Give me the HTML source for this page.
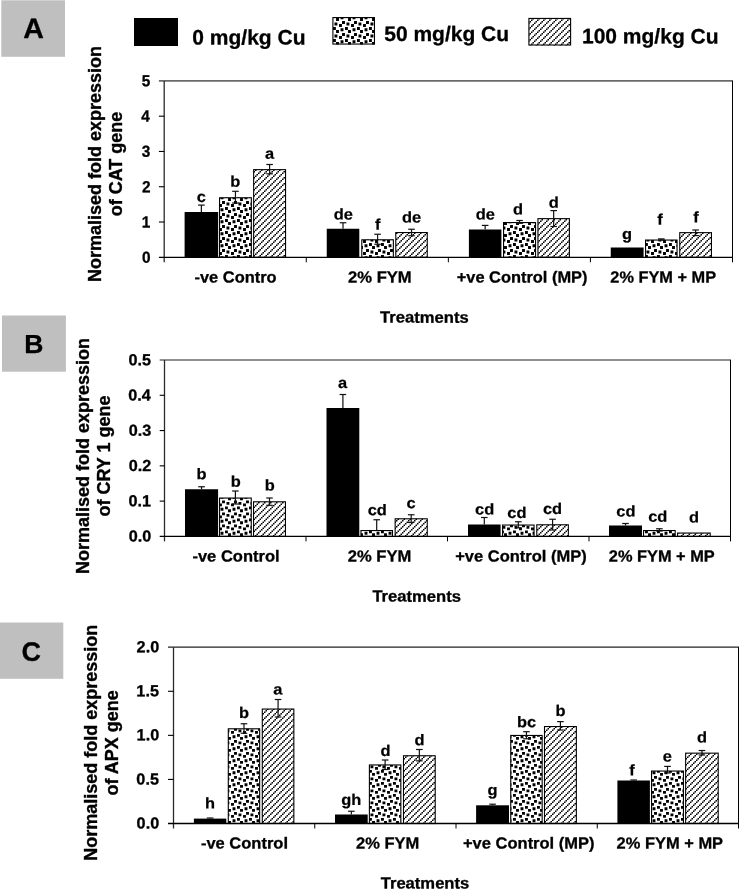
<!DOCTYPE html>
<html lang="en">
<head>
<meta charset="utf-8">
<title>Normalised fold expression of CAT, CRY 1 and APX genes</title>
<style>
html,body{margin:0;padding:0;background:#fff;}
body{width:739px;height:889px;overflow:hidden;}
svg{display:block;}
text{font-family:"Liberation Sans",Arial,Helvetica,sans-serif;font-weight:bold;stroke-linejoin:round;}
</style>
</head>
<body>
<svg width="739" height="889" viewBox="0 0 739 889" font-family='"Liberation Sans", Arial, Helvetica, sans-serif' font-weight="bold" fill="#000">
<rect width="739" height="889" fill="#fff"/>
<rect x="1.3" y="0.3" width="63.7" height="56.5" fill="#bfbfbf"/>
<text transform="translate(23.14,38.1) skewY(0.05) scale(1.02,1)" font-size="28" stroke="#000" stroke-width="0.3">A</text>
<rect x="2" y="315.5" width="63.9" height="56.2" fill="#bfbfbf"/>
<text transform="translate(24.27,353.05) skewY(0.05) scale(1.02,1)" font-size="26" stroke="#000" stroke-width="0.3">B</text>
<rect x="0" y="622.5" width="63.3" height="56.3" fill="#bfbfbf"/>
<text transform="translate(21.59,660.75) skewY(0.05) scale(1.02,1)" font-size="26.5" stroke="#000" stroke-width="0.3">C</text>
<rect x="134" y="18" width="44" height="28" fill="#000"/>
<text transform="translate(192.3,44.5) skewY(0.05)" font-size="21" stroke="#000" stroke-width="0.3">0 mg/kg Cu</text>
<rect x="332.36" y="17.04" width="42.64" height="27.56" fill="#fff"/><path d="M342.04 21.05h2.9v2.9h-2.9zM342.04 33.05h2.9v2.9h-2.9zM354.04 21.05h2.9v2.9h-2.9zM354.04 33.05h2.9v2.9h-2.9zM366.04 21.05h2.9v2.9h-2.9zM366.04 33.05h2.9v2.9h-2.9zM334.48 22.53h2.9v2.9h-2.9zM334.48 34.53h2.9v2.9h-2.9zM346.48 22.53h2.9v2.9h-2.9zM346.48 34.53h2.9v2.9h-2.9zM358.48 22.53h2.9v2.9h-2.9zM358.48 34.53h2.9v2.9h-2.9zM370.48 22.53h2.9v2.9h-2.9zM370.48 34.53h2.9v2.9h-2.9zM339.04 24.02h2.9v2.9h-2.9zM339.04 36.02h2.9v2.9h-2.9zM351.04 24.02h2.9v2.9h-2.9zM351.04 36.02h2.9v2.9h-2.9zM363.04 24.02h2.9v2.9h-2.9zM363.04 36.02h2.9v2.9h-2.9zM332.99 17.59h2.9v0.36h-2.9zM332.99 27.05h2.9v2.9h-2.9zM332.99 39.05h2.9v2.9h-2.9zM344.99 17.59h2.9v0.36h-2.9zM344.99 27.05h2.9v2.9h-2.9zM344.99 39.05h2.9v2.9h-2.9zM356.99 17.59h2.9v0.36h-2.9zM356.99 27.05h2.9v2.9h-2.9zM356.99 39.05h2.9v2.9h-2.9zM368.99 17.59h2.9v0.36h-2.9zM368.99 27.05h2.9v2.9h-2.9zM368.99 39.05h2.9v2.9h-2.9zM340.55 17.59h2.9v1.66h-2.9zM340.55 28.35h2.9v2.9h-2.9zM340.55 40.35h2.9v2.9h-2.9zM352.55 17.59h2.9v1.66h-2.9zM352.55 28.35h2.9v2.9h-2.9zM352.55 40.35h2.9v2.9h-2.9zM364.55 17.59h2.9v1.66h-2.9zM364.55 28.35h2.9v2.9h-2.9zM364.55 40.35h2.9v2.9h-2.9zM336.05 17.98h2.9v2.9h-2.9zM336.05 29.98h2.9v2.9h-2.9zM336.05 41.98h2.9v2.62h-2.9zM348.05 17.98h2.9v2.9h-2.9zM348.05 29.98h2.9v2.9h-2.9zM348.05 41.98h2.9v2.62h-2.9zM360.05 17.98h2.9v2.9h-2.9zM360.05 29.98h2.9v2.9h-2.9zM360.05 41.98h2.9v2.62h-2.9zM372.05 17.98h2.4v2.9h-2.4zM372.05 29.98h2.4v2.9h-2.4zM372.05 41.98h2.4v2.62h-2.4z" fill="#000"/><rect x="332.91" y="17.59" width="41.54" height="26.46" fill="none" stroke="#000" stroke-width="1.1"/>
<text transform="translate(384.2,41) skewY(0.05)" font-size="21" stroke="#000" stroke-width="0.3">50 mg/kg Cu</text>
<rect x="528.36" y="17.88" width="42.79" height="27.66" fill="#fff"/><path d="M532.5 18.43h1.5v1.07h-1.5zM538.5 18.43h1.5v1.07h-1.5zM544.5 18.43h1.5v1.07h-1.5zM550.5 18.43h1.5v1.07h-1.5zM556.5 18.43h1.5v1.07h-1.5zM562.5 18.43h1.5v1.07h-1.5zM568.5 18.43h1.5v1.07h-1.5zM531 19.5h1.5v1.5h-1.5zM537 19.5h1.5v1.5h-1.5zM543 19.5h1.5v1.5h-1.5zM549 19.5h1.5v1.5h-1.5zM555 19.5h1.5v1.5h-1.5zM561 19.5h1.5v1.5h-1.5zM567 19.5h1.5v1.5h-1.5zM529.5 21h1.5v1.5h-1.5zM535.5 21h1.5v1.5h-1.5zM541.5 21h1.5v1.5h-1.5zM547.5 21h1.5v1.5h-1.5zM553.5 21h1.5v1.5h-1.5zM559.5 21h1.5v1.5h-1.5zM565.5 21h1.5v1.5h-1.5zM528.91 22.5h0.59v1.5h-0.59zM534 22.5h1.5v1.5h-1.5zM540 22.5h1.5v1.5h-1.5zM546 22.5h1.5v1.5h-1.5zM552 22.5h1.5v1.5h-1.5zM558 22.5h1.5v1.5h-1.5zM564 22.5h1.5v1.5h-1.5zM570 22.5h0.6v1.5h-0.6zM532.5 24h1.5v1.5h-1.5zM538.5 24h1.5v1.5h-1.5zM544.5 24h1.5v1.5h-1.5zM550.5 24h1.5v1.5h-1.5zM556.5 24h1.5v1.5h-1.5zM562.5 24h1.5v1.5h-1.5zM568.5 24h1.5v1.5h-1.5zM531 25.5h1.5v1.5h-1.5zM537 25.5h1.5v1.5h-1.5zM543 25.5h1.5v1.5h-1.5zM549 25.5h1.5v1.5h-1.5zM555 25.5h1.5v1.5h-1.5zM561 25.5h1.5v1.5h-1.5zM567 25.5h1.5v1.5h-1.5zM529.5 27h1.5v1.5h-1.5zM535.5 27h1.5v1.5h-1.5zM541.5 27h1.5v1.5h-1.5zM547.5 27h1.5v1.5h-1.5zM553.5 27h1.5v1.5h-1.5zM559.5 27h1.5v1.5h-1.5zM565.5 27h1.5v1.5h-1.5zM528.91 28.5h0.59v1.5h-0.59zM534 28.5h1.5v1.5h-1.5zM540 28.5h1.5v1.5h-1.5zM546 28.5h1.5v1.5h-1.5zM552 28.5h1.5v1.5h-1.5zM558 28.5h1.5v1.5h-1.5zM564 28.5h1.5v1.5h-1.5zM570 28.5h0.6v1.5h-0.6zM532.5 30h1.5v1.5h-1.5zM538.5 30h1.5v1.5h-1.5zM544.5 30h1.5v1.5h-1.5zM550.5 30h1.5v1.5h-1.5zM556.5 30h1.5v1.5h-1.5zM562.5 30h1.5v1.5h-1.5zM568.5 30h1.5v1.5h-1.5zM531 31.5h1.5v1.5h-1.5zM537 31.5h1.5v1.5h-1.5zM543 31.5h1.5v1.5h-1.5zM549 31.5h1.5v1.5h-1.5zM555 31.5h1.5v1.5h-1.5zM561 31.5h1.5v1.5h-1.5zM567 31.5h1.5v1.5h-1.5zM529.5 33h1.5v1.5h-1.5zM535.5 33h1.5v1.5h-1.5zM541.5 33h1.5v1.5h-1.5zM547.5 33h1.5v1.5h-1.5zM553.5 33h1.5v1.5h-1.5zM559.5 33h1.5v1.5h-1.5zM565.5 33h1.5v1.5h-1.5zM528.91 34.5h0.59v1.5h-0.59zM534 34.5h1.5v1.5h-1.5zM540 34.5h1.5v1.5h-1.5zM546 34.5h1.5v1.5h-1.5zM552 34.5h1.5v1.5h-1.5zM558 34.5h1.5v1.5h-1.5zM564 34.5h1.5v1.5h-1.5zM570 34.5h0.6v1.5h-0.6zM532.5 36h1.5v1.5h-1.5zM538.5 36h1.5v1.5h-1.5zM544.5 36h1.5v1.5h-1.5zM550.5 36h1.5v1.5h-1.5zM556.5 36h1.5v1.5h-1.5zM562.5 36h1.5v1.5h-1.5zM568.5 36h1.5v1.5h-1.5zM531 37.5h1.5v1.5h-1.5zM537 37.5h1.5v1.5h-1.5zM543 37.5h1.5v1.5h-1.5zM549 37.5h1.5v1.5h-1.5zM555 37.5h1.5v1.5h-1.5zM561 37.5h1.5v1.5h-1.5zM567 37.5h1.5v1.5h-1.5zM529.5 39h1.5v1.5h-1.5zM535.5 39h1.5v1.5h-1.5zM541.5 39h1.5v1.5h-1.5zM547.5 39h1.5v1.5h-1.5zM553.5 39h1.5v1.5h-1.5zM559.5 39h1.5v1.5h-1.5zM565.5 39h1.5v1.5h-1.5zM528.91 40.5h0.59v1.5h-0.59zM534 40.5h1.5v1.5h-1.5zM540 40.5h1.5v1.5h-1.5zM546 40.5h1.5v1.5h-1.5zM552 40.5h1.5v1.5h-1.5zM558 40.5h1.5v1.5h-1.5zM564 40.5h1.5v1.5h-1.5zM570 40.5h0.6v1.5h-0.6zM532.5 42h1.5v1.5h-1.5zM538.5 42h1.5v1.5h-1.5zM544.5 42h1.5v1.5h-1.5zM550.5 42h1.5v1.5h-1.5zM556.5 42h1.5v1.5h-1.5zM562.5 42h1.5v1.5h-1.5zM568.5 42h1.5v1.5h-1.5zM531 43.5h1.5v1.5h-1.5zM537 43.5h1.5v1.5h-1.5zM543 43.5h1.5v1.5h-1.5zM549 43.5h1.5v1.5h-1.5zM555 43.5h1.5v1.5h-1.5zM561 43.5h1.5v1.5h-1.5zM567 43.5h1.5v1.5h-1.5zM529.5 45h1.5v0.54h-1.5zM535.5 45h1.5v0.54h-1.5zM541.5 45h1.5v0.54h-1.5zM547.5 45h1.5v0.54h-1.5zM553.5 45h1.5v0.54h-1.5zM559.5 45h1.5v0.54h-1.5zM565.5 45h1.5v0.54h-1.5z" fill="#000"/><rect x="528.91" y="18.43" width="41.69" height="26.56" fill="none" stroke="#000" stroke-width="1.1"/>
<text transform="translate(582,43.3) skewY(0.05)" font-size="21" stroke="#000" stroke-width="0.3">100 mg/kg Cu</text>
<line x1="158.9" y1="80.9" x2="733" y2="80.9" stroke="#6a6a6a" stroke-width="1.7"/>
<line x1="732.5" y1="80.9" x2="732.5" y2="262.3" stroke="#000" stroke-width="1"/>
<rect x="184.6" y="212" width="33.55" height="45.3" fill="#000"/>
<rect x="219" y="197.2" width="32.9" height="60.1" fill="#fff"/><path d="M222.04 201.05h2.9v2.9h-2.9zM222.04 213.05h2.9v2.9h-2.9zM222.04 225.05h2.9v2.9h-2.9zM222.04 237.05h2.9v2.9h-2.9zM222.04 249.05h2.9v2.9h-2.9zM234.04 201.05h2.9v2.9h-2.9zM234.04 213.05h2.9v2.9h-2.9zM234.04 225.05h2.9v2.9h-2.9zM234.04 237.05h2.9v2.9h-2.9zM234.04 249.05h2.9v2.9h-2.9zM246.04 201.05h2.9v2.9h-2.9zM246.04 213.05h2.9v2.9h-2.9zM246.04 225.05h2.9v2.9h-2.9zM246.04 237.05h2.9v2.9h-2.9zM246.04 249.05h2.9v2.9h-2.9zM226.48 202.53h2.9v2.9h-2.9zM226.48 214.53h2.9v2.9h-2.9zM226.48 226.53h2.9v2.9h-2.9zM226.48 238.53h2.9v2.9h-2.9zM226.48 250.53h2.9v2.9h-2.9zM238.48 202.53h2.9v2.9h-2.9zM238.48 214.53h2.9v2.9h-2.9zM238.48 226.53h2.9v2.9h-2.9zM238.48 238.53h2.9v2.9h-2.9zM238.48 250.53h2.9v2.9h-2.9zM250.48 202.53h0.87v2.9h-0.87zM250.48 214.53h0.87v2.9h-0.87zM250.48 226.53h0.87v2.9h-0.87zM250.48 238.53h0.87v2.9h-0.87zM250.48 250.53h0.87v2.9h-0.87zM219.55 204.02h2.39v2.9h-2.39zM219.55 216.02h2.39v2.9h-2.39zM219.55 228.02h2.39v2.9h-2.39zM219.55 240.02h2.39v2.9h-2.39zM219.55 252.02h2.39v2.9h-2.39zM231.04 204.02h2.9v2.9h-2.9zM231.04 216.02h2.9v2.9h-2.9zM231.04 228.02h2.9v2.9h-2.9zM231.04 240.02h2.9v2.9h-2.9zM231.04 252.02h2.9v2.9h-2.9zM243.04 204.02h2.9v2.9h-2.9zM243.04 216.02h2.9v2.9h-2.9zM243.04 228.02h2.9v2.9h-2.9zM243.04 240.02h2.9v2.9h-2.9zM243.04 252.02h2.9v2.9h-2.9zM224.99 197.75h2.9v0.2h-2.9zM224.99 207.05h2.9v2.9h-2.9zM224.99 219.05h2.9v2.9h-2.9zM224.99 231.05h2.9v2.9h-2.9zM224.99 243.05h2.9v2.9h-2.9zM224.99 255.05h2.9v2.25h-2.9zM236.99 197.75h2.9v0.2h-2.9zM236.99 207.05h2.9v2.9h-2.9zM236.99 219.05h2.9v2.9h-2.9zM236.99 231.05h2.9v2.9h-2.9zM236.99 243.05h2.9v2.9h-2.9zM236.99 255.05h2.9v2.25h-2.9zM248.99 197.75h2.36v0.2h-2.36zM248.99 207.05h2.36v2.9h-2.36zM248.99 219.05h2.36v2.9h-2.36zM248.99 231.05h2.36v2.9h-2.36zM248.99 243.05h2.36v2.9h-2.36zM248.99 255.05h2.36v2.25h-2.36zM220.55 197.75h2.9v1.5h-2.9zM220.55 208.35h2.9v2.9h-2.9zM220.55 220.35h2.9v2.9h-2.9zM220.55 232.35h2.9v2.9h-2.9zM220.55 244.35h2.9v2.9h-2.9zM220.55 256.35h2.9v0.95h-2.9zM232.55 197.75h2.9v1.5h-2.9zM232.55 208.35h2.9v2.9h-2.9zM232.55 220.35h2.9v2.9h-2.9zM232.55 232.35h2.9v2.9h-2.9zM232.55 244.35h2.9v2.9h-2.9zM232.55 256.35h2.9v0.95h-2.9zM244.55 197.75h2.9v1.5h-2.9zM244.55 208.35h2.9v2.9h-2.9zM244.55 220.35h2.9v2.9h-2.9zM244.55 232.35h2.9v2.9h-2.9zM244.55 244.35h2.9v2.9h-2.9zM244.55 256.35h2.9v0.95h-2.9zM228.05 197.98h2.9v2.9h-2.9zM228.05 209.98h2.9v2.9h-2.9zM228.05 221.98h2.9v2.9h-2.9zM228.05 233.98h2.9v2.9h-2.9zM228.05 245.98h2.9v2.9h-2.9zM240.05 197.98h2.9v2.9h-2.9zM240.05 209.98h2.9v2.9h-2.9zM240.05 221.98h2.9v2.9h-2.9zM240.05 233.98h2.9v2.9h-2.9zM240.05 245.98h2.9v2.9h-2.9z" fill="#000"/><rect x="219.55" y="197.75" width="31.8" height="59.55" fill="none" stroke="#000" stroke-width="1.1"/>
<rect x="253.1" y="169.1" width="33" height="88.2" fill="#fff"/><path d="M255 169.65h1.5v1.35h-1.5zM261 169.65h1.5v1.35h-1.5zM267 169.65h1.5v1.35h-1.5zM273 169.65h1.5v1.35h-1.5zM279 169.65h1.5v1.35h-1.5zM285 169.65h0.55v1.35h-0.55zM253.65 171h1.35v1.5h-1.35zM259.5 171h1.5v1.5h-1.5zM265.5 171h1.5v1.5h-1.5zM271.5 171h1.5v1.5h-1.5zM277.5 171h1.5v1.5h-1.5zM283.5 171h1.5v1.5h-1.5zM258 172.5h1.5v1.5h-1.5zM264 172.5h1.5v1.5h-1.5zM270 172.5h1.5v1.5h-1.5zM276 172.5h1.5v1.5h-1.5zM282 172.5h1.5v1.5h-1.5zM256.5 174h1.5v1.5h-1.5zM262.5 174h1.5v1.5h-1.5zM268.5 174h1.5v1.5h-1.5zM274.5 174h1.5v1.5h-1.5zM280.5 174h1.5v1.5h-1.5zM255 175.5h1.5v1.5h-1.5zM261 175.5h1.5v1.5h-1.5zM267 175.5h1.5v1.5h-1.5zM273 175.5h1.5v1.5h-1.5zM279 175.5h1.5v1.5h-1.5zM285 175.5h0.55v1.5h-0.55zM253.65 177h1.35v1.5h-1.35zM259.5 177h1.5v1.5h-1.5zM265.5 177h1.5v1.5h-1.5zM271.5 177h1.5v1.5h-1.5zM277.5 177h1.5v1.5h-1.5zM283.5 177h1.5v1.5h-1.5zM258 178.5h1.5v1.5h-1.5zM264 178.5h1.5v1.5h-1.5zM270 178.5h1.5v1.5h-1.5zM276 178.5h1.5v1.5h-1.5zM282 178.5h1.5v1.5h-1.5zM256.5 180h1.5v1.5h-1.5zM262.5 180h1.5v1.5h-1.5zM268.5 180h1.5v1.5h-1.5zM274.5 180h1.5v1.5h-1.5zM280.5 180h1.5v1.5h-1.5zM255 181.5h1.5v1.5h-1.5zM261 181.5h1.5v1.5h-1.5zM267 181.5h1.5v1.5h-1.5zM273 181.5h1.5v1.5h-1.5zM279 181.5h1.5v1.5h-1.5zM285 181.5h0.55v1.5h-0.55zM253.65 183h1.35v1.5h-1.35zM259.5 183h1.5v1.5h-1.5zM265.5 183h1.5v1.5h-1.5zM271.5 183h1.5v1.5h-1.5zM277.5 183h1.5v1.5h-1.5zM283.5 183h1.5v1.5h-1.5zM258 184.5h1.5v1.5h-1.5zM264 184.5h1.5v1.5h-1.5zM270 184.5h1.5v1.5h-1.5zM276 184.5h1.5v1.5h-1.5zM282 184.5h1.5v1.5h-1.5zM256.5 186h1.5v1.5h-1.5zM262.5 186h1.5v1.5h-1.5zM268.5 186h1.5v1.5h-1.5zM274.5 186h1.5v1.5h-1.5zM280.5 186h1.5v1.5h-1.5zM255 187.5h1.5v1.5h-1.5zM261 187.5h1.5v1.5h-1.5zM267 187.5h1.5v1.5h-1.5zM273 187.5h1.5v1.5h-1.5zM279 187.5h1.5v1.5h-1.5zM285 187.5h0.55v1.5h-0.55zM253.65 189h1.35v1.5h-1.35zM259.5 189h1.5v1.5h-1.5zM265.5 189h1.5v1.5h-1.5zM271.5 189h1.5v1.5h-1.5zM277.5 189h1.5v1.5h-1.5zM283.5 189h1.5v1.5h-1.5zM258 190.5h1.5v1.5h-1.5zM264 190.5h1.5v1.5h-1.5zM270 190.5h1.5v1.5h-1.5zM276 190.5h1.5v1.5h-1.5zM282 190.5h1.5v1.5h-1.5zM256.5 192h1.5v1.5h-1.5zM262.5 192h1.5v1.5h-1.5zM268.5 192h1.5v1.5h-1.5zM274.5 192h1.5v1.5h-1.5zM280.5 192h1.5v1.5h-1.5zM255 193.5h1.5v1.5h-1.5zM261 193.5h1.5v1.5h-1.5zM267 193.5h1.5v1.5h-1.5zM273 193.5h1.5v1.5h-1.5zM279 193.5h1.5v1.5h-1.5zM285 193.5h0.55v1.5h-0.55zM253.65 195h1.35v1.5h-1.35zM259.5 195h1.5v1.5h-1.5zM265.5 195h1.5v1.5h-1.5zM271.5 195h1.5v1.5h-1.5zM277.5 195h1.5v1.5h-1.5zM283.5 195h1.5v1.5h-1.5zM258 196.5h1.5v1.5h-1.5zM264 196.5h1.5v1.5h-1.5zM270 196.5h1.5v1.5h-1.5zM276 196.5h1.5v1.5h-1.5zM282 196.5h1.5v1.5h-1.5zM256.5 198h1.5v1.5h-1.5zM262.5 198h1.5v1.5h-1.5zM268.5 198h1.5v1.5h-1.5zM274.5 198h1.5v1.5h-1.5zM280.5 198h1.5v1.5h-1.5zM255 199.5h1.5v1.5h-1.5zM261 199.5h1.5v1.5h-1.5zM267 199.5h1.5v1.5h-1.5zM273 199.5h1.5v1.5h-1.5zM279 199.5h1.5v1.5h-1.5zM285 199.5h0.55v1.5h-0.55zM253.65 201h1.35v1.5h-1.35zM259.5 201h1.5v1.5h-1.5zM265.5 201h1.5v1.5h-1.5zM271.5 201h1.5v1.5h-1.5zM277.5 201h1.5v1.5h-1.5zM283.5 201h1.5v1.5h-1.5zM258 202.5h1.5v1.5h-1.5zM264 202.5h1.5v1.5h-1.5zM270 202.5h1.5v1.5h-1.5zM276 202.5h1.5v1.5h-1.5zM282 202.5h1.5v1.5h-1.5zM256.5 204h1.5v1.5h-1.5zM262.5 204h1.5v1.5h-1.5zM268.5 204h1.5v1.5h-1.5zM274.5 204h1.5v1.5h-1.5zM280.5 204h1.5v1.5h-1.5zM255 205.5h1.5v1.5h-1.5zM261 205.5h1.5v1.5h-1.5zM267 205.5h1.5v1.5h-1.5zM273 205.5h1.5v1.5h-1.5zM279 205.5h1.5v1.5h-1.5zM285 205.5h0.55v1.5h-0.55zM253.65 207h1.35v1.5h-1.35zM259.5 207h1.5v1.5h-1.5zM265.5 207h1.5v1.5h-1.5zM271.5 207h1.5v1.5h-1.5zM277.5 207h1.5v1.5h-1.5zM283.5 207h1.5v1.5h-1.5zM258 208.5h1.5v1.5h-1.5zM264 208.5h1.5v1.5h-1.5zM270 208.5h1.5v1.5h-1.5zM276 208.5h1.5v1.5h-1.5zM282 208.5h1.5v1.5h-1.5zM256.5 210h1.5v1.5h-1.5zM262.5 210h1.5v1.5h-1.5zM268.5 210h1.5v1.5h-1.5zM274.5 210h1.5v1.5h-1.5zM280.5 210h1.5v1.5h-1.5zM255 211.5h1.5v1.5h-1.5zM261 211.5h1.5v1.5h-1.5zM267 211.5h1.5v1.5h-1.5zM273 211.5h1.5v1.5h-1.5zM279 211.5h1.5v1.5h-1.5zM285 211.5h0.55v1.5h-0.55zM253.65 213h1.35v1.5h-1.35zM259.5 213h1.5v1.5h-1.5zM265.5 213h1.5v1.5h-1.5zM271.5 213h1.5v1.5h-1.5zM277.5 213h1.5v1.5h-1.5zM283.5 213h1.5v1.5h-1.5zM258 214.5h1.5v1.5h-1.5zM264 214.5h1.5v1.5h-1.5zM270 214.5h1.5v1.5h-1.5zM276 214.5h1.5v1.5h-1.5zM282 214.5h1.5v1.5h-1.5zM256.5 216h1.5v1.5h-1.5zM262.5 216h1.5v1.5h-1.5zM268.5 216h1.5v1.5h-1.5zM274.5 216h1.5v1.5h-1.5zM280.5 216h1.5v1.5h-1.5zM255 217.5h1.5v1.5h-1.5zM261 217.5h1.5v1.5h-1.5zM267 217.5h1.5v1.5h-1.5zM273 217.5h1.5v1.5h-1.5zM279 217.5h1.5v1.5h-1.5zM285 217.5h0.55v1.5h-0.55zM253.65 219h1.35v1.5h-1.35zM259.5 219h1.5v1.5h-1.5zM265.5 219h1.5v1.5h-1.5zM271.5 219h1.5v1.5h-1.5zM277.5 219h1.5v1.5h-1.5zM283.5 219h1.5v1.5h-1.5zM258 220.5h1.5v1.5h-1.5zM264 220.5h1.5v1.5h-1.5zM270 220.5h1.5v1.5h-1.5zM276 220.5h1.5v1.5h-1.5zM282 220.5h1.5v1.5h-1.5zM256.5 222h1.5v1.5h-1.5zM262.5 222h1.5v1.5h-1.5zM268.5 222h1.5v1.5h-1.5zM274.5 222h1.5v1.5h-1.5zM280.5 222h1.5v1.5h-1.5zM255 223.5h1.5v1.5h-1.5zM261 223.5h1.5v1.5h-1.5zM267 223.5h1.5v1.5h-1.5zM273 223.5h1.5v1.5h-1.5zM279 223.5h1.5v1.5h-1.5zM285 223.5h0.55v1.5h-0.55zM253.65 225h1.35v1.5h-1.35zM259.5 225h1.5v1.5h-1.5zM265.5 225h1.5v1.5h-1.5zM271.5 225h1.5v1.5h-1.5zM277.5 225h1.5v1.5h-1.5zM283.5 225h1.5v1.5h-1.5zM258 226.5h1.5v1.5h-1.5zM264 226.5h1.5v1.5h-1.5zM270 226.5h1.5v1.5h-1.5zM276 226.5h1.5v1.5h-1.5zM282 226.5h1.5v1.5h-1.5zM256.5 228h1.5v1.5h-1.5zM262.5 228h1.5v1.5h-1.5zM268.5 228h1.5v1.5h-1.5zM274.5 228h1.5v1.5h-1.5zM280.5 228h1.5v1.5h-1.5zM255 229.5h1.5v1.5h-1.5zM261 229.5h1.5v1.5h-1.5zM267 229.5h1.5v1.5h-1.5zM273 229.5h1.5v1.5h-1.5zM279 229.5h1.5v1.5h-1.5zM285 229.5h0.55v1.5h-0.55zM253.65 231h1.35v1.5h-1.35zM259.5 231h1.5v1.5h-1.5zM265.5 231h1.5v1.5h-1.5zM271.5 231h1.5v1.5h-1.5zM277.5 231h1.5v1.5h-1.5zM283.5 231h1.5v1.5h-1.5zM258 232.5h1.5v1.5h-1.5zM264 232.5h1.5v1.5h-1.5zM270 232.5h1.5v1.5h-1.5zM276 232.5h1.5v1.5h-1.5zM282 232.5h1.5v1.5h-1.5zM256.5 234h1.5v1.5h-1.5zM262.5 234h1.5v1.5h-1.5zM268.5 234h1.5v1.5h-1.5zM274.5 234h1.5v1.5h-1.5zM280.5 234h1.5v1.5h-1.5zM255 235.5h1.5v1.5h-1.5zM261 235.5h1.5v1.5h-1.5zM267 235.5h1.5v1.5h-1.5zM273 235.5h1.5v1.5h-1.5zM279 235.5h1.5v1.5h-1.5zM285 235.5h0.55v1.5h-0.55zM253.65 237h1.35v1.5h-1.35zM259.5 237h1.5v1.5h-1.5zM265.5 237h1.5v1.5h-1.5zM271.5 237h1.5v1.5h-1.5zM277.5 237h1.5v1.5h-1.5zM283.5 237h1.5v1.5h-1.5zM258 238.5h1.5v1.5h-1.5zM264 238.5h1.5v1.5h-1.5zM270 238.5h1.5v1.5h-1.5zM276 238.5h1.5v1.5h-1.5zM282 238.5h1.5v1.5h-1.5zM256.5 240h1.5v1.5h-1.5zM262.5 240h1.5v1.5h-1.5zM268.5 240h1.5v1.5h-1.5zM274.5 240h1.5v1.5h-1.5zM280.5 240h1.5v1.5h-1.5zM255 241.5h1.5v1.5h-1.5zM261 241.5h1.5v1.5h-1.5zM267 241.5h1.5v1.5h-1.5zM273 241.5h1.5v1.5h-1.5zM279 241.5h1.5v1.5h-1.5zM285 241.5h0.55v1.5h-0.55zM253.65 243h1.35v1.5h-1.35zM259.5 243h1.5v1.5h-1.5zM265.5 243h1.5v1.5h-1.5zM271.5 243h1.5v1.5h-1.5zM277.5 243h1.5v1.5h-1.5zM283.5 243h1.5v1.5h-1.5zM258 244.5h1.5v1.5h-1.5zM264 244.5h1.5v1.5h-1.5zM270 244.5h1.5v1.5h-1.5zM276 244.5h1.5v1.5h-1.5zM282 244.5h1.5v1.5h-1.5zM256.5 246h1.5v1.5h-1.5zM262.5 246h1.5v1.5h-1.5zM268.5 246h1.5v1.5h-1.5zM274.5 246h1.5v1.5h-1.5zM280.5 246h1.5v1.5h-1.5zM255 247.5h1.5v1.5h-1.5zM261 247.5h1.5v1.5h-1.5zM267 247.5h1.5v1.5h-1.5zM273 247.5h1.5v1.5h-1.5zM279 247.5h1.5v1.5h-1.5zM285 247.5h0.55v1.5h-0.55zM253.65 249h1.35v1.5h-1.35zM259.5 249h1.5v1.5h-1.5zM265.5 249h1.5v1.5h-1.5zM271.5 249h1.5v1.5h-1.5zM277.5 249h1.5v1.5h-1.5zM283.5 249h1.5v1.5h-1.5zM258 250.5h1.5v1.5h-1.5zM264 250.5h1.5v1.5h-1.5zM270 250.5h1.5v1.5h-1.5zM276 250.5h1.5v1.5h-1.5zM282 250.5h1.5v1.5h-1.5zM256.5 252h1.5v1.5h-1.5zM262.5 252h1.5v1.5h-1.5zM268.5 252h1.5v1.5h-1.5zM274.5 252h1.5v1.5h-1.5zM280.5 252h1.5v1.5h-1.5zM255 253.5h1.5v1.5h-1.5zM261 253.5h1.5v1.5h-1.5zM267 253.5h1.5v1.5h-1.5zM273 253.5h1.5v1.5h-1.5zM279 253.5h1.5v1.5h-1.5zM285 253.5h0.55v1.5h-0.55zM253.65 255h1.35v1.5h-1.35zM259.5 255h1.5v1.5h-1.5zM265.5 255h1.5v1.5h-1.5zM271.5 255h1.5v1.5h-1.5zM277.5 255h1.5v1.5h-1.5zM283.5 255h1.5v1.5h-1.5zM258 256.5h1.5v0.8h-1.5zM264 256.5h1.5v0.8h-1.5zM270 256.5h1.5v0.8h-1.5zM276 256.5h1.5v0.8h-1.5zM282 256.5h1.5v0.8h-1.5z" fill="#000"/><rect x="253.65" y="169.65" width="31.9" height="87.65" fill="none" stroke="#000" stroke-width="1.1"/>
<rect x="326.75" y="228.75" width="32.55" height="28.55" fill="#000"/>
<rect x="361.25" y="239.25" width="32.65" height="18.05" fill="#fff"/><path d="M366.04 239.8h2.9v0.15h-2.9zM366.04 249.05h2.9v2.9h-2.9zM378.04 239.8h2.9v0.15h-2.9zM378.04 249.05h2.9v2.9h-2.9zM390.04 239.8h2.9v0.15h-2.9zM390.04 249.05h2.9v2.9h-2.9zM370.48 239.8h2.9v1.63h-2.9zM370.48 250.53h2.9v2.9h-2.9zM382.48 239.8h2.9v1.63h-2.9zM382.48 250.53h2.9v2.9h-2.9zM363.04 240.02h2.9v2.9h-2.9zM363.04 252.02h2.9v2.9h-2.9zM375.04 240.02h2.9v2.9h-2.9zM375.04 252.02h2.9v2.9h-2.9zM387.04 240.02h2.9v2.9h-2.9zM387.04 252.02h2.9v2.9h-2.9zM368.99 243.05h2.9v2.9h-2.9zM368.99 255.05h2.9v2.25h-2.9zM380.99 243.05h2.9v2.9h-2.9zM380.99 255.05h2.9v2.25h-2.9zM392.99 243.05h0.36v2.9h-0.36zM392.99 255.05h0.36v2.25h-0.36zM364.55 244.35h2.9v2.9h-2.9zM364.55 256.35h2.9v0.95h-2.9zM376.55 244.35h2.9v2.9h-2.9zM376.55 256.35h2.9v0.95h-2.9zM388.55 244.35h2.9v2.9h-2.9zM388.55 256.35h2.9v0.95h-2.9zM361.8 245.98h1.15v2.9h-1.15zM372.05 245.98h2.9v2.9h-2.9zM384.05 245.98h2.9v2.9h-2.9z" fill="#000"/><rect x="361.8" y="239.8" width="31.55" height="17.5" fill="none" stroke="#000" stroke-width="1.1"/>
<rect x="395.25" y="232" width="32.55" height="25.3" fill="#fff"/><path d="M396 232.55h1.5v1.45h-1.5zM402 232.55h1.5v1.45h-1.5zM408 232.55h1.5v1.45h-1.5zM414 232.55h1.5v1.45h-1.5zM420 232.55h1.5v1.45h-1.5zM426 232.55h1.25v1.45h-1.25zM395.8 234h0.2v1.5h-0.2zM400.5 234h1.5v1.5h-1.5zM406.5 234h1.5v1.5h-1.5zM412.5 234h1.5v1.5h-1.5zM418.5 234h1.5v1.5h-1.5zM424.5 234h1.5v1.5h-1.5zM399 235.5h1.5v1.5h-1.5zM405 235.5h1.5v1.5h-1.5zM411 235.5h1.5v1.5h-1.5zM417 235.5h1.5v1.5h-1.5zM423 235.5h1.5v1.5h-1.5zM397.5 237h1.5v1.5h-1.5zM403.5 237h1.5v1.5h-1.5zM409.5 237h1.5v1.5h-1.5zM415.5 237h1.5v1.5h-1.5zM421.5 237h1.5v1.5h-1.5zM396 238.5h1.5v1.5h-1.5zM402 238.5h1.5v1.5h-1.5zM408 238.5h1.5v1.5h-1.5zM414 238.5h1.5v1.5h-1.5zM420 238.5h1.5v1.5h-1.5zM426 238.5h1.25v1.5h-1.25zM395.8 240h0.2v1.5h-0.2zM400.5 240h1.5v1.5h-1.5zM406.5 240h1.5v1.5h-1.5zM412.5 240h1.5v1.5h-1.5zM418.5 240h1.5v1.5h-1.5zM424.5 240h1.5v1.5h-1.5zM399 241.5h1.5v1.5h-1.5zM405 241.5h1.5v1.5h-1.5zM411 241.5h1.5v1.5h-1.5zM417 241.5h1.5v1.5h-1.5zM423 241.5h1.5v1.5h-1.5zM397.5 243h1.5v1.5h-1.5zM403.5 243h1.5v1.5h-1.5zM409.5 243h1.5v1.5h-1.5zM415.5 243h1.5v1.5h-1.5zM421.5 243h1.5v1.5h-1.5zM396 244.5h1.5v1.5h-1.5zM402 244.5h1.5v1.5h-1.5zM408 244.5h1.5v1.5h-1.5zM414 244.5h1.5v1.5h-1.5zM420 244.5h1.5v1.5h-1.5zM426 244.5h1.25v1.5h-1.25zM395.8 246h0.2v1.5h-0.2zM400.5 246h1.5v1.5h-1.5zM406.5 246h1.5v1.5h-1.5zM412.5 246h1.5v1.5h-1.5zM418.5 246h1.5v1.5h-1.5zM424.5 246h1.5v1.5h-1.5zM399 247.5h1.5v1.5h-1.5zM405 247.5h1.5v1.5h-1.5zM411 247.5h1.5v1.5h-1.5zM417 247.5h1.5v1.5h-1.5zM423 247.5h1.5v1.5h-1.5zM397.5 249h1.5v1.5h-1.5zM403.5 249h1.5v1.5h-1.5zM409.5 249h1.5v1.5h-1.5zM415.5 249h1.5v1.5h-1.5zM421.5 249h1.5v1.5h-1.5zM396 250.5h1.5v1.5h-1.5zM402 250.5h1.5v1.5h-1.5zM408 250.5h1.5v1.5h-1.5zM414 250.5h1.5v1.5h-1.5zM420 250.5h1.5v1.5h-1.5zM426 250.5h1.25v1.5h-1.25zM395.8 252h0.2v1.5h-0.2zM400.5 252h1.5v1.5h-1.5zM406.5 252h1.5v1.5h-1.5zM412.5 252h1.5v1.5h-1.5zM418.5 252h1.5v1.5h-1.5zM424.5 252h1.5v1.5h-1.5zM399 253.5h1.5v1.5h-1.5zM405 253.5h1.5v1.5h-1.5zM411 253.5h1.5v1.5h-1.5zM417 253.5h1.5v1.5h-1.5zM423 253.5h1.5v1.5h-1.5zM397.5 255h1.5v1.5h-1.5zM403.5 255h1.5v1.5h-1.5zM409.5 255h1.5v1.5h-1.5zM415.5 255h1.5v1.5h-1.5zM421.5 255h1.5v1.5h-1.5zM396 256.5h1.5v0.8h-1.5zM402 256.5h1.5v0.8h-1.5zM408 256.5h1.5v0.8h-1.5zM414 256.5h1.5v0.8h-1.5zM420 256.5h1.5v0.8h-1.5zM426 256.5h1.25v0.8h-1.25z" fill="#000"/><rect x="395.8" y="232.55" width="31.45" height="24.75" fill="none" stroke="#000" stroke-width="1.1"/>
<rect x="468.9" y="229.5" width="32.5" height="27.8" fill="#000"/>
<rect x="503" y="222" width="33.1" height="35.3" fill="#fff"/><path d="M510.04 225.05h2.9v2.9h-2.9zM510.04 237.05h2.9v2.9h-2.9zM510.04 249.05h2.9v2.9h-2.9zM522.04 225.05h2.9v2.9h-2.9zM522.04 237.05h2.9v2.9h-2.9zM522.04 249.05h2.9v2.9h-2.9zM534.04 225.05h1.51v2.9h-1.51zM534.04 237.05h1.51v2.9h-1.51zM534.04 249.05h1.51v2.9h-1.51zM503.55 226.53h1.83v2.9h-1.83zM503.55 238.53h1.83v2.9h-1.83zM503.55 250.53h1.83v2.9h-1.83zM514.48 226.53h2.9v2.9h-2.9zM514.48 238.53h2.9v2.9h-2.9zM514.48 250.53h2.9v2.9h-2.9zM526.48 226.53h2.9v2.9h-2.9zM526.48 238.53h2.9v2.9h-2.9zM526.48 250.53h2.9v2.9h-2.9zM507.04 228.02h2.9v2.9h-2.9zM507.04 240.02h2.9v2.9h-2.9zM507.04 252.02h2.9v2.9h-2.9zM519.04 228.02h2.9v2.9h-2.9zM519.04 240.02h2.9v2.9h-2.9zM519.04 252.02h2.9v2.9h-2.9zM531.04 228.02h2.9v2.9h-2.9zM531.04 240.02h2.9v2.9h-2.9zM531.04 252.02h2.9v2.9h-2.9zM503.55 231.05h0.34v2.9h-0.34zM503.55 243.05h0.34v2.9h-0.34zM503.55 255.05h0.34v2.25h-0.34zM512.99 231.05h2.9v2.9h-2.9zM512.99 243.05h2.9v2.9h-2.9zM512.99 255.05h2.9v2.25h-2.9zM524.99 231.05h2.9v2.9h-2.9zM524.99 243.05h2.9v2.9h-2.9zM524.99 255.05h2.9v2.25h-2.9zM508.55 222.55h2.9v0.7h-2.9zM508.55 232.35h2.9v2.9h-2.9zM508.55 244.35h2.9v2.9h-2.9zM508.55 256.35h2.9v0.95h-2.9zM520.55 222.55h2.9v0.7h-2.9zM520.55 232.35h2.9v2.9h-2.9zM520.55 244.35h2.9v2.9h-2.9zM520.55 256.35h2.9v0.95h-2.9zM532.55 222.55h2.9v0.7h-2.9zM532.55 232.35h2.9v2.9h-2.9zM532.55 244.35h2.9v2.9h-2.9zM532.55 256.35h2.9v0.95h-2.9zM504.05 222.55h2.9v2.33h-2.9zM504.05 233.98h2.9v2.9h-2.9zM504.05 245.98h2.9v2.9h-2.9zM516.05 222.55h2.9v2.33h-2.9zM516.05 233.98h2.9v2.9h-2.9zM516.05 245.98h2.9v2.9h-2.9zM528.05 222.55h2.9v2.33h-2.9zM528.05 233.98h2.9v2.9h-2.9zM528.05 245.98h2.9v2.9h-2.9z" fill="#000"/><rect x="503.55" y="222.55" width="32" height="34.75" fill="none" stroke="#000" stroke-width="1.1"/>
<rect x="537.4" y="218.1" width="32.55" height="39.2" fill="#fff"/><path d="M537.95 218.65h0.55v0.35h-0.55zM543 218.65h1.5v0.35h-1.5zM549 218.65h1.5v0.35h-1.5zM555 218.65h1.5v0.35h-1.5zM561 218.65h1.5v0.35h-1.5zM567 218.65h1.5v0.35h-1.5zM541.5 219h1.5v1.5h-1.5zM547.5 219h1.5v1.5h-1.5zM553.5 219h1.5v1.5h-1.5zM559.5 219h1.5v1.5h-1.5zM565.5 219h1.5v1.5h-1.5zM540 220.5h1.5v1.5h-1.5zM546 220.5h1.5v1.5h-1.5zM552 220.5h1.5v1.5h-1.5zM558 220.5h1.5v1.5h-1.5zM564 220.5h1.5v1.5h-1.5zM538.5 222h1.5v1.5h-1.5zM544.5 222h1.5v1.5h-1.5zM550.5 222h1.5v1.5h-1.5zM556.5 222h1.5v1.5h-1.5zM562.5 222h1.5v1.5h-1.5zM568.5 222h0.9v1.5h-0.9zM537.95 223.5h0.55v1.5h-0.55zM543 223.5h1.5v1.5h-1.5zM549 223.5h1.5v1.5h-1.5zM555 223.5h1.5v1.5h-1.5zM561 223.5h1.5v1.5h-1.5zM567 223.5h1.5v1.5h-1.5zM541.5 225h1.5v1.5h-1.5zM547.5 225h1.5v1.5h-1.5zM553.5 225h1.5v1.5h-1.5zM559.5 225h1.5v1.5h-1.5zM565.5 225h1.5v1.5h-1.5zM540 226.5h1.5v1.5h-1.5zM546 226.5h1.5v1.5h-1.5zM552 226.5h1.5v1.5h-1.5zM558 226.5h1.5v1.5h-1.5zM564 226.5h1.5v1.5h-1.5zM538.5 228h1.5v1.5h-1.5zM544.5 228h1.5v1.5h-1.5zM550.5 228h1.5v1.5h-1.5zM556.5 228h1.5v1.5h-1.5zM562.5 228h1.5v1.5h-1.5zM568.5 228h0.9v1.5h-0.9zM537.95 229.5h0.55v1.5h-0.55zM543 229.5h1.5v1.5h-1.5zM549 229.5h1.5v1.5h-1.5zM555 229.5h1.5v1.5h-1.5zM561 229.5h1.5v1.5h-1.5zM567 229.5h1.5v1.5h-1.5zM541.5 231h1.5v1.5h-1.5zM547.5 231h1.5v1.5h-1.5zM553.5 231h1.5v1.5h-1.5zM559.5 231h1.5v1.5h-1.5zM565.5 231h1.5v1.5h-1.5zM540 232.5h1.5v1.5h-1.5zM546 232.5h1.5v1.5h-1.5zM552 232.5h1.5v1.5h-1.5zM558 232.5h1.5v1.5h-1.5zM564 232.5h1.5v1.5h-1.5zM538.5 234h1.5v1.5h-1.5zM544.5 234h1.5v1.5h-1.5zM550.5 234h1.5v1.5h-1.5zM556.5 234h1.5v1.5h-1.5zM562.5 234h1.5v1.5h-1.5zM568.5 234h0.9v1.5h-0.9zM537.95 235.5h0.55v1.5h-0.55zM543 235.5h1.5v1.5h-1.5zM549 235.5h1.5v1.5h-1.5zM555 235.5h1.5v1.5h-1.5zM561 235.5h1.5v1.5h-1.5zM567 235.5h1.5v1.5h-1.5zM541.5 237h1.5v1.5h-1.5zM547.5 237h1.5v1.5h-1.5zM553.5 237h1.5v1.5h-1.5zM559.5 237h1.5v1.5h-1.5zM565.5 237h1.5v1.5h-1.5zM540 238.5h1.5v1.5h-1.5zM546 238.5h1.5v1.5h-1.5zM552 238.5h1.5v1.5h-1.5zM558 238.5h1.5v1.5h-1.5zM564 238.5h1.5v1.5h-1.5zM538.5 240h1.5v1.5h-1.5zM544.5 240h1.5v1.5h-1.5zM550.5 240h1.5v1.5h-1.5zM556.5 240h1.5v1.5h-1.5zM562.5 240h1.5v1.5h-1.5zM568.5 240h0.9v1.5h-0.9zM537.95 241.5h0.55v1.5h-0.55zM543 241.5h1.5v1.5h-1.5zM549 241.5h1.5v1.5h-1.5zM555 241.5h1.5v1.5h-1.5zM561 241.5h1.5v1.5h-1.5zM567 241.5h1.5v1.5h-1.5zM541.5 243h1.5v1.5h-1.5zM547.5 243h1.5v1.5h-1.5zM553.5 243h1.5v1.5h-1.5zM559.5 243h1.5v1.5h-1.5zM565.5 243h1.5v1.5h-1.5zM540 244.5h1.5v1.5h-1.5zM546 244.5h1.5v1.5h-1.5zM552 244.5h1.5v1.5h-1.5zM558 244.5h1.5v1.5h-1.5zM564 244.5h1.5v1.5h-1.5zM538.5 246h1.5v1.5h-1.5zM544.5 246h1.5v1.5h-1.5zM550.5 246h1.5v1.5h-1.5zM556.5 246h1.5v1.5h-1.5zM562.5 246h1.5v1.5h-1.5zM568.5 246h0.9v1.5h-0.9zM537.95 247.5h0.55v1.5h-0.55zM543 247.5h1.5v1.5h-1.5zM549 247.5h1.5v1.5h-1.5zM555 247.5h1.5v1.5h-1.5zM561 247.5h1.5v1.5h-1.5zM567 247.5h1.5v1.5h-1.5zM541.5 249h1.5v1.5h-1.5zM547.5 249h1.5v1.5h-1.5zM553.5 249h1.5v1.5h-1.5zM559.5 249h1.5v1.5h-1.5zM565.5 249h1.5v1.5h-1.5zM540 250.5h1.5v1.5h-1.5zM546 250.5h1.5v1.5h-1.5zM552 250.5h1.5v1.5h-1.5zM558 250.5h1.5v1.5h-1.5zM564 250.5h1.5v1.5h-1.5zM538.5 252h1.5v1.5h-1.5zM544.5 252h1.5v1.5h-1.5zM550.5 252h1.5v1.5h-1.5zM556.5 252h1.5v1.5h-1.5zM562.5 252h1.5v1.5h-1.5zM568.5 252h0.9v1.5h-0.9zM537.95 253.5h0.55v1.5h-0.55zM543 253.5h1.5v1.5h-1.5zM549 253.5h1.5v1.5h-1.5zM555 253.5h1.5v1.5h-1.5zM561 253.5h1.5v1.5h-1.5zM567 253.5h1.5v1.5h-1.5zM541.5 255h1.5v1.5h-1.5zM547.5 255h1.5v1.5h-1.5zM553.5 255h1.5v1.5h-1.5zM559.5 255h1.5v1.5h-1.5zM565.5 255h1.5v1.5h-1.5zM540 256.5h1.5v0.8h-1.5zM546 256.5h1.5v0.8h-1.5zM552 256.5h1.5v0.8h-1.5zM558 256.5h1.5v0.8h-1.5zM564 256.5h1.5v0.8h-1.5z" fill="#000"/><rect x="537.95" y="218.65" width="31.45" height="38.65" fill="none" stroke="#000" stroke-width="1.1"/>
<rect x="610.75" y="247.5" width="32.85" height="9.8" fill="#000"/>
<rect x="645" y="239.5" width="32.6" height="17.8" fill="#fff"/><path d="M654.04 249.05h2.9v2.9h-2.9zM666.04 249.05h2.9v2.9h-2.9zM646.48 240.05h2.9v1.38h-2.9zM646.48 250.53h2.9v2.9h-2.9zM658.48 240.05h2.9v1.38h-2.9zM658.48 250.53h2.9v2.9h-2.9zM670.48 240.05h2.9v1.38h-2.9zM670.48 250.53h2.9v2.9h-2.9zM651.04 240.05h2.9v2.87h-2.9zM651.04 252.02h2.9v2.9h-2.9zM663.04 240.05h2.9v2.87h-2.9zM663.04 252.02h2.9v2.9h-2.9zM675.04 240.05h2.01v2.87h-2.01zM675.04 252.02h2.01v2.9h-2.01zM645.55 243.05h2.34v2.9h-2.34zM645.55 255.05h2.34v2.25h-2.34zM656.99 243.05h2.9v2.9h-2.9zM656.99 255.05h2.9v2.25h-2.9zM668.99 243.05h2.9v2.9h-2.9zM668.99 255.05h2.9v2.25h-2.9zM652.55 244.35h2.9v2.9h-2.9zM652.55 256.35h2.9v0.95h-2.9zM664.55 244.35h2.9v2.9h-2.9zM664.55 256.35h2.9v0.95h-2.9zM676.55 244.35h0.5v2.9h-0.5zM676.55 256.35h0.5v0.95h-0.5zM648.05 245.98h2.9v2.9h-2.9zM660.05 245.98h2.9v2.9h-2.9zM672.05 245.98h2.9v2.9h-2.9z" fill="#000"/><rect x="645.55" y="240.05" width="31.5" height="17.25" fill="none" stroke="#000" stroke-width="1.1"/>
<rect x="679.2" y="232.1" width="32.8" height="25.2" fill="#fff"/><path d="M684 232.65h1.5v1.35h-1.5zM690 232.65h1.5v1.35h-1.5zM696 232.65h1.5v1.35h-1.5zM702 232.65h1.5v1.35h-1.5zM708 232.65h1.5v1.35h-1.5zM682.5 234h1.5v1.5h-1.5zM688.5 234h1.5v1.5h-1.5zM694.5 234h1.5v1.5h-1.5zM700.5 234h1.5v1.5h-1.5zM706.5 234h1.5v1.5h-1.5zM681 235.5h1.5v1.5h-1.5zM687 235.5h1.5v1.5h-1.5zM693 235.5h1.5v1.5h-1.5zM699 235.5h1.5v1.5h-1.5zM705 235.5h1.5v1.5h-1.5zM711 235.5h0.45v1.5h-0.45zM679.75 237h1.25v1.5h-1.25zM685.5 237h1.5v1.5h-1.5zM691.5 237h1.5v1.5h-1.5zM697.5 237h1.5v1.5h-1.5zM703.5 237h1.5v1.5h-1.5zM709.5 237h1.5v1.5h-1.5zM684 238.5h1.5v1.5h-1.5zM690 238.5h1.5v1.5h-1.5zM696 238.5h1.5v1.5h-1.5zM702 238.5h1.5v1.5h-1.5zM708 238.5h1.5v1.5h-1.5zM682.5 240h1.5v1.5h-1.5zM688.5 240h1.5v1.5h-1.5zM694.5 240h1.5v1.5h-1.5zM700.5 240h1.5v1.5h-1.5zM706.5 240h1.5v1.5h-1.5zM681 241.5h1.5v1.5h-1.5zM687 241.5h1.5v1.5h-1.5zM693 241.5h1.5v1.5h-1.5zM699 241.5h1.5v1.5h-1.5zM705 241.5h1.5v1.5h-1.5zM711 241.5h0.45v1.5h-0.45zM679.75 243h1.25v1.5h-1.25zM685.5 243h1.5v1.5h-1.5zM691.5 243h1.5v1.5h-1.5zM697.5 243h1.5v1.5h-1.5zM703.5 243h1.5v1.5h-1.5zM709.5 243h1.5v1.5h-1.5zM684 244.5h1.5v1.5h-1.5zM690 244.5h1.5v1.5h-1.5zM696 244.5h1.5v1.5h-1.5zM702 244.5h1.5v1.5h-1.5zM708 244.5h1.5v1.5h-1.5zM682.5 246h1.5v1.5h-1.5zM688.5 246h1.5v1.5h-1.5zM694.5 246h1.5v1.5h-1.5zM700.5 246h1.5v1.5h-1.5zM706.5 246h1.5v1.5h-1.5zM681 247.5h1.5v1.5h-1.5zM687 247.5h1.5v1.5h-1.5zM693 247.5h1.5v1.5h-1.5zM699 247.5h1.5v1.5h-1.5zM705 247.5h1.5v1.5h-1.5zM711 247.5h0.45v1.5h-0.45zM679.75 249h1.25v1.5h-1.25zM685.5 249h1.5v1.5h-1.5zM691.5 249h1.5v1.5h-1.5zM697.5 249h1.5v1.5h-1.5zM703.5 249h1.5v1.5h-1.5zM709.5 249h1.5v1.5h-1.5zM684 250.5h1.5v1.5h-1.5zM690 250.5h1.5v1.5h-1.5zM696 250.5h1.5v1.5h-1.5zM702 250.5h1.5v1.5h-1.5zM708 250.5h1.5v1.5h-1.5zM682.5 252h1.5v1.5h-1.5zM688.5 252h1.5v1.5h-1.5zM694.5 252h1.5v1.5h-1.5zM700.5 252h1.5v1.5h-1.5zM706.5 252h1.5v1.5h-1.5zM681 253.5h1.5v1.5h-1.5zM687 253.5h1.5v1.5h-1.5zM693 253.5h1.5v1.5h-1.5zM699 253.5h1.5v1.5h-1.5zM705 253.5h1.5v1.5h-1.5zM711 253.5h0.45v1.5h-0.45zM679.75 255h1.25v1.5h-1.25zM685.5 255h1.5v1.5h-1.5zM691.5 255h1.5v1.5h-1.5zM697.5 255h1.5v1.5h-1.5zM703.5 255h1.5v1.5h-1.5zM709.5 255h1.5v1.5h-1.5zM684 256.5h1.5v0.8h-1.5zM690 256.5h1.5v0.8h-1.5zM696 256.5h1.5v0.8h-1.5zM702 256.5h1.5v0.8h-1.5zM708 256.5h1.5v0.8h-1.5z" fill="#000"/><rect x="679.75" y="232.65" width="31.7" height="24.65" fill="none" stroke="#000" stroke-width="1.1"/>
<line x1="164.2" y1="80.9" x2="164.2" y2="262.3" stroke="#2a2a2a" stroke-width="1.3"/>
<line x1="158.9" y1="257.3" x2="732.5" y2="257.3" stroke="#000" stroke-width="1.35"/>
<text transform="translate(141.96,262.7) skewY(0.05) scale(0.96,1)" font-size="16" stroke="#000" stroke-width="0.3">0</text>
<line x1="158.9" y1="222.02" x2="164.2" y2="222.02" stroke="#000" stroke-width="1.1"/>
<text transform="translate(141.72,227.42) skewY(0.05) scale(0.96,1)" font-size="16" stroke="#000" stroke-width="0.3">1</text>
<line x1="158.9" y1="186.74" x2="164.2" y2="186.74" stroke="#000" stroke-width="1.1"/>
<text transform="translate(141.96,192.14) skewY(0.05) scale(0.96,1)" font-size="16" stroke="#000" stroke-width="0.3">2</text>
<line x1="158.9" y1="151.46" x2="164.2" y2="151.46" stroke="#000" stroke-width="1.1"/>
<text transform="translate(141.84,156.86) skewY(0.05) scale(0.96,1)" font-size="16" stroke="#000" stroke-width="0.3">3</text>
<line x1="158.9" y1="116.18" x2="164.2" y2="116.18" stroke="#000" stroke-width="1.1"/>
<text transform="translate(141.36,121.58) skewY(0.05) scale(0.96,1)" font-size="16" stroke="#000" stroke-width="0.3">4</text>
<text transform="translate(141.72,86.3) skewY(0.05) scale(0.96,1)" font-size="16" stroke="#000" stroke-width="0.3">5</text>
<line x1="306.27" y1="257.3" x2="306.27" y2="262.3" stroke="#000" stroke-width="1"/>
<line x1="448.35" y1="257.3" x2="448.35" y2="262.3" stroke="#000" stroke-width="1"/>
<line x1="590.42" y1="257.3" x2="590.42" y2="262.3" stroke="#000" stroke-width="1"/>
<line x1="201.38" y1="205.1" x2="201.38" y2="212" stroke="#111" stroke-width="1.2"/>
<line x1="198.07" y1="205.1" x2="204.68" y2="205.1" stroke="#111" stroke-width="1.2"/>
<text transform="translate(196.86,202.1) skewY(0.05) scale(1.06,1)" font-size="15.5" stroke="#000" stroke-width="0.22">c</text>
<line x1="235.45" y1="191.3" x2="235.45" y2="203" stroke="#111" stroke-width="1.2"/>
<line x1="232.15" y1="191.3" x2="238.75" y2="191.3" stroke="#111" stroke-width="1.2"/>
<line x1="232.15" y1="203" x2="238.75" y2="203" stroke="#111" stroke-width="1.2"/>
<text transform="translate(230.28,186.8) skewY(0.05) scale(1.06,1)" font-size="15.5" stroke="#000" stroke-width="0.22">b</text>
<line x1="269.6" y1="164.5" x2="269.6" y2="173.8" stroke="#111" stroke-width="1.2"/>
<line x1="266.3" y1="164.5" x2="272.9" y2="164.5" stroke="#111" stroke-width="1.2"/>
<line x1="266.3" y1="173.8" x2="272.9" y2="173.8" stroke="#111" stroke-width="1.2"/>
<text transform="translate(264.9,158.7) skewY(0.05) scale(1.06,1)" font-size="15.5" stroke="#000" stroke-width="0.22">a</text>
<line x1="343.02" y1="222.75" x2="343.02" y2="228.75" stroke="#111" stroke-width="1.2"/>
<line x1="339.72" y1="222.75" x2="346.32" y2="222.75" stroke="#111" stroke-width="1.2"/>
<text transform="translate(333.79,219.6) skewY(0.05) scale(1.06,1)" font-size="15.5" stroke="#000" stroke-width="0.22">de</text>
<line x1="377.57" y1="234.25" x2="377.57" y2="244.25" stroke="#111" stroke-width="1.2"/>
<line x1="374.27" y1="234.25" x2="380.88" y2="234.25" stroke="#111" stroke-width="1.2"/>
<line x1="374.27" y1="244.25" x2="380.88" y2="244.25" stroke="#111" stroke-width="1.2"/>
<text transform="translate(374.95,229.8) skewY(0.05) scale(1.06,1)" font-size="15.5" stroke="#000" stroke-width="0.22">f</text>
<line x1="411.52" y1="229.25" x2="411.52" y2="235.75" stroke="#111" stroke-width="1.2"/>
<line x1="408.22" y1="229.25" x2="414.82" y2="229.25" stroke="#111" stroke-width="1.2"/>
<line x1="408.22" y1="235.75" x2="414.82" y2="235.75" stroke="#111" stroke-width="1.2"/>
<text transform="translate(401.99,222.5) skewY(0.05) scale(1.06,1)" font-size="15.5" stroke="#000" stroke-width="0.22">de</text>
<line x1="485.15" y1="225.4" x2="485.15" y2="229.5" stroke="#111" stroke-width="1.2"/>
<line x1="481.85" y1="225.4" x2="488.45" y2="225.4" stroke="#111" stroke-width="1.2"/>
<text transform="translate(475.69,219.6) skewY(0.05) scale(1.06,1)" font-size="15.5" stroke="#000" stroke-width="0.22">de</text>
<line x1="519.55" y1="220.5" x2="519.55" y2="223.3" stroke="#111" stroke-width="1.2"/>
<line x1="516.25" y1="220.5" x2="522.85" y2="220.5" stroke="#111" stroke-width="1.2"/>
<line x1="516.25" y1="223.3" x2="522.85" y2="223.3" stroke="#111" stroke-width="1.2"/>
<text transform="translate(512.93,214.6) skewY(0.05) scale(1.06,1)" font-size="15.5" stroke="#000" stroke-width="0.22">d</text>
<line x1="553.67" y1="210.6" x2="553.67" y2="226.5" stroke="#111" stroke-width="1.2"/>
<line x1="550.38" y1="210.6" x2="556.97" y2="210.6" stroke="#111" stroke-width="1.2"/>
<line x1="550.38" y1="226.5" x2="556.97" y2="226.5" stroke="#111" stroke-width="1.2"/>
<text transform="translate(548.83,207.8) skewY(0.05) scale(1.06,1)" font-size="15.5" stroke="#000" stroke-width="0.22">d</text>
<text transform="translate(622.03,239.3) skewY(0.05) scale(1.06,1)" font-size="15.5" stroke="#000" stroke-width="0.22">g</text>
<line x1="661.3" y1="238.9" x2="661.3" y2="240" stroke="#111" stroke-width="1.2"/>
<line x1="658" y1="238.9" x2="664.6" y2="238.9" stroke="#111" stroke-width="1.2"/>
<line x1="658" y1="240" x2="664.6" y2="240" stroke="#111" stroke-width="1.2"/>
<text transform="translate(657.25,224.8) skewY(0.05) scale(1.06,1)" font-size="15.5" stroke="#000" stroke-width="0.22">f</text>
<line x1="695.6" y1="230" x2="695.6" y2="235.6" stroke="#111" stroke-width="1.2"/>
<line x1="692.3" y1="230" x2="698.9" y2="230" stroke="#111" stroke-width="1.2"/>
<line x1="692.3" y1="235.6" x2="698.9" y2="235.6" stroke="#111" stroke-width="1.2"/>
<text transform="translate(693.15,222.4) skewY(0.05) scale(1.06,1)" font-size="15.5" stroke="#000" stroke-width="0.22">f</text>
<text transform="translate(194.52,282.5) skewY(0.05) scale(1.0262,1)" font-size="16" stroke="#000" stroke-width="0.3">-ve Contro</text>
<text transform="translate(348.01,282.5) skewY(0.05) scale(1.0395,1)" font-size="16" stroke="#000" stroke-width="0.3">2% FYM</text>
<text transform="translate(456.69,282.5) skewY(0.05) scale(1.0255,1)" font-size="16" stroke="#000" stroke-width="0.3">+ve Control (MP)</text>
<text transform="translate(610.32,282.5) skewY(0.05) scale(1.0219,1)" font-size="16" stroke="#000" stroke-width="0.3">2% FYM + MP</text>
<text transform="translate(380.1,322.6) skewY(0.05) scale(1.038,1)" font-size="16" stroke="#000" stroke-width="0.3">Treatments</text>
<text transform="translate(101.4,164) rotate(-90)" text-anchor="middle" font-size="18" stroke="#000" stroke-width="0.35">Normalised fold expression</text>
<text transform="translate(122.2,164) rotate(-90)" text-anchor="middle" font-size="18" stroke="#000" stroke-width="0.35">of CAT gene</text>
<line x1="159.7" y1="360" x2="731" y2="360" stroke="#6a6a6a" stroke-width="1.7"/>
<line x1="730.5" y1="360" x2="730.5" y2="541.4" stroke="#000" stroke-width="1"/>
<rect x="185" y="489.25" width="33.1" height="47.15" fill="#000"/>
<rect x="219" y="497.5" width="32.8" height="38.9" fill="#fff"/><path d="M222.04 500.43h2.9v2.9h-2.9zM222.04 512.43h2.9v2.9h-2.9zM222.04 524.43h2.9v2.9h-2.9zM234.04 500.43h2.9v2.9h-2.9zM234.04 512.43h2.9v2.9h-2.9zM234.04 524.43h2.9v2.9h-2.9zM246.04 500.43h2.9v2.9h-2.9zM246.04 512.43h2.9v2.9h-2.9zM246.04 524.43h2.9v2.9h-2.9zM226.48 501.91h2.9v2.9h-2.9zM226.48 513.91h2.9v2.9h-2.9zM226.48 525.91h2.9v2.9h-2.9zM238.48 501.91h2.9v2.9h-2.9zM238.48 513.91h2.9v2.9h-2.9zM238.48 525.91h2.9v2.9h-2.9zM250.48 501.91h0.77v2.9h-0.77zM250.48 513.91h0.77v2.9h-0.77zM250.48 525.91h0.77v2.9h-0.77zM219.55 503.4h2.39v2.9h-2.39zM219.55 515.4h2.39v2.9h-2.39zM219.55 527.4h2.39v2.9h-2.39zM231.04 503.4h2.9v2.9h-2.9zM231.04 515.4h2.9v2.9h-2.9zM231.04 527.4h2.9v2.9h-2.9zM243.04 503.4h2.9v2.9h-2.9zM243.04 515.4h2.9v2.9h-2.9zM243.04 527.4h2.9v2.9h-2.9zM224.99 506.43h2.9v2.9h-2.9zM224.99 518.43h2.9v2.9h-2.9zM224.99 530.43h2.9v2.9h-2.9zM236.99 506.43h2.9v2.9h-2.9zM236.99 518.43h2.9v2.9h-2.9zM236.99 530.43h2.9v2.9h-2.9zM248.99 506.43h2.26v2.9h-2.26zM248.99 518.43h2.26v2.9h-2.26zM248.99 530.43h2.26v2.9h-2.26zM220.55 498.05h2.9v0.58h-2.9zM220.55 507.73h2.9v2.9h-2.9zM220.55 519.73h2.9v2.9h-2.9zM220.55 531.73h2.9v2.9h-2.9zM232.55 498.05h2.9v0.58h-2.9zM232.55 507.73h2.9v2.9h-2.9zM232.55 519.73h2.9v2.9h-2.9zM232.55 531.73h2.9v2.9h-2.9zM244.55 498.05h2.9v0.58h-2.9zM244.55 507.73h2.9v2.9h-2.9zM244.55 519.73h2.9v2.9h-2.9zM244.55 531.73h2.9v2.9h-2.9zM228.05 498.05h2.9v2.21h-2.9zM228.05 509.36h2.9v2.9h-2.9zM228.05 521.36h2.9v2.9h-2.9zM228.05 533.36h2.9v2.9h-2.9zM240.05 498.05h2.9v2.21h-2.9zM240.05 509.36h2.9v2.9h-2.9zM240.05 521.36h2.9v2.9h-2.9zM240.05 533.36h2.9v2.9h-2.9z" fill="#000"/><rect x="219.55" y="498.05" width="31.7" height="38.35" fill="none" stroke="#000" stroke-width="1.1"/>
<rect x="253" y="501.25" width="33" height="35.15" fill="#fff"/><path d="M253.55 501.8h1.45v0.08h-1.45zM259.5 501.8h1.5v0.08h-1.5zM265.5 501.8h1.5v0.08h-1.5zM271.5 501.8h1.5v0.08h-1.5zM277.5 501.8h1.5v0.08h-1.5zM283.5 501.8h1.5v0.08h-1.5zM258 501.88h1.5v1.5h-1.5zM264 501.88h1.5v1.5h-1.5zM270 501.88h1.5v1.5h-1.5zM276 501.88h1.5v1.5h-1.5zM282 501.88h1.5v1.5h-1.5zM256.5 503.38h1.5v1.5h-1.5zM262.5 503.38h1.5v1.5h-1.5zM268.5 503.38h1.5v1.5h-1.5zM274.5 503.38h1.5v1.5h-1.5zM280.5 503.38h1.5v1.5h-1.5zM255 504.88h1.5v1.5h-1.5zM261 504.88h1.5v1.5h-1.5zM267 504.88h1.5v1.5h-1.5zM273 504.88h1.5v1.5h-1.5zM279 504.88h1.5v1.5h-1.5zM285 504.88h0.45v1.5h-0.45zM253.55 506.38h1.45v1.5h-1.45zM259.5 506.38h1.5v1.5h-1.5zM265.5 506.38h1.5v1.5h-1.5zM271.5 506.38h1.5v1.5h-1.5zM277.5 506.38h1.5v1.5h-1.5zM283.5 506.38h1.5v1.5h-1.5zM258 507.88h1.5v1.5h-1.5zM264 507.88h1.5v1.5h-1.5zM270 507.88h1.5v1.5h-1.5zM276 507.88h1.5v1.5h-1.5zM282 507.88h1.5v1.5h-1.5zM256.5 509.38h1.5v1.5h-1.5zM262.5 509.38h1.5v1.5h-1.5zM268.5 509.38h1.5v1.5h-1.5zM274.5 509.38h1.5v1.5h-1.5zM280.5 509.38h1.5v1.5h-1.5zM255 510.88h1.5v1.5h-1.5zM261 510.88h1.5v1.5h-1.5zM267 510.88h1.5v1.5h-1.5zM273 510.88h1.5v1.5h-1.5zM279 510.88h1.5v1.5h-1.5zM285 510.88h0.45v1.5h-0.45zM253.55 512.38h1.45v1.5h-1.45zM259.5 512.38h1.5v1.5h-1.5zM265.5 512.38h1.5v1.5h-1.5zM271.5 512.38h1.5v1.5h-1.5zM277.5 512.38h1.5v1.5h-1.5zM283.5 512.38h1.5v1.5h-1.5zM258 513.88h1.5v1.5h-1.5zM264 513.88h1.5v1.5h-1.5zM270 513.88h1.5v1.5h-1.5zM276 513.88h1.5v1.5h-1.5zM282 513.88h1.5v1.5h-1.5zM256.5 515.38h1.5v1.5h-1.5zM262.5 515.38h1.5v1.5h-1.5zM268.5 515.38h1.5v1.5h-1.5zM274.5 515.38h1.5v1.5h-1.5zM280.5 515.38h1.5v1.5h-1.5zM255 516.88h1.5v1.5h-1.5zM261 516.88h1.5v1.5h-1.5zM267 516.88h1.5v1.5h-1.5zM273 516.88h1.5v1.5h-1.5zM279 516.88h1.5v1.5h-1.5zM285 516.88h0.45v1.5h-0.45zM253.55 518.38h1.45v1.5h-1.45zM259.5 518.38h1.5v1.5h-1.5zM265.5 518.38h1.5v1.5h-1.5zM271.5 518.38h1.5v1.5h-1.5zM277.5 518.38h1.5v1.5h-1.5zM283.5 518.38h1.5v1.5h-1.5zM258 519.88h1.5v1.5h-1.5zM264 519.88h1.5v1.5h-1.5zM270 519.88h1.5v1.5h-1.5zM276 519.88h1.5v1.5h-1.5zM282 519.88h1.5v1.5h-1.5zM256.5 521.38h1.5v1.5h-1.5zM262.5 521.38h1.5v1.5h-1.5zM268.5 521.38h1.5v1.5h-1.5zM274.5 521.38h1.5v1.5h-1.5zM280.5 521.38h1.5v1.5h-1.5zM255 522.88h1.5v1.5h-1.5zM261 522.88h1.5v1.5h-1.5zM267 522.88h1.5v1.5h-1.5zM273 522.88h1.5v1.5h-1.5zM279 522.88h1.5v1.5h-1.5zM285 522.88h0.45v1.5h-0.45zM253.55 524.38h1.45v1.5h-1.45zM259.5 524.38h1.5v1.5h-1.5zM265.5 524.38h1.5v1.5h-1.5zM271.5 524.38h1.5v1.5h-1.5zM277.5 524.38h1.5v1.5h-1.5zM283.5 524.38h1.5v1.5h-1.5zM258 525.88h1.5v1.5h-1.5zM264 525.88h1.5v1.5h-1.5zM270 525.88h1.5v1.5h-1.5zM276 525.88h1.5v1.5h-1.5zM282 525.88h1.5v1.5h-1.5zM256.5 527.38h1.5v1.5h-1.5zM262.5 527.38h1.5v1.5h-1.5zM268.5 527.38h1.5v1.5h-1.5zM274.5 527.38h1.5v1.5h-1.5zM280.5 527.38h1.5v1.5h-1.5zM255 528.88h1.5v1.5h-1.5zM261 528.88h1.5v1.5h-1.5zM267 528.88h1.5v1.5h-1.5zM273 528.88h1.5v1.5h-1.5zM279 528.88h1.5v1.5h-1.5zM285 528.88h0.45v1.5h-0.45zM253.55 530.38h1.45v1.5h-1.45zM259.5 530.38h1.5v1.5h-1.5zM265.5 530.38h1.5v1.5h-1.5zM271.5 530.38h1.5v1.5h-1.5zM277.5 530.38h1.5v1.5h-1.5zM283.5 530.38h1.5v1.5h-1.5zM258 531.88h1.5v1.5h-1.5zM264 531.88h1.5v1.5h-1.5zM270 531.88h1.5v1.5h-1.5zM276 531.88h1.5v1.5h-1.5zM282 531.88h1.5v1.5h-1.5zM256.5 533.38h1.5v1.5h-1.5zM262.5 533.38h1.5v1.5h-1.5zM268.5 533.38h1.5v1.5h-1.5zM274.5 533.38h1.5v1.5h-1.5zM280.5 533.38h1.5v1.5h-1.5zM255 534.88h1.5v1.5h-1.5zM261 534.88h1.5v1.5h-1.5zM267 534.88h1.5v1.5h-1.5zM273 534.88h1.5v1.5h-1.5zM279 534.88h1.5v1.5h-1.5zM285 534.88h0.45v1.5h-0.45z" fill="#000"/><rect x="253.55" y="501.8" width="31.9" height="34.6" fill="none" stroke="#000" stroke-width="1.1"/>
<rect x="326.5" y="408" width="32.8" height="128.4" fill="#000"/>
<rect x="360.4" y="530" width="32.6" height="6.4" fill="#fff"/><path d="M368.99 530.55h2.9v2.78h-2.9zM380.99 530.55h2.9v2.78h-2.9zM364.55 531.73h2.9v2.9h-2.9zM376.55 531.73h2.9v2.9h-2.9zM388.55 531.73h2.9v2.9h-2.9zM360.95 533.36h2v2.9h-2zM372.05 533.36h2.9v2.9h-2.9zM384.05 533.36h2.9v2.9h-2.9z" fill="#000"/><rect x="360.95" y="530.55" width="31.5" height="5.85" fill="none" stroke="#000" stroke-width="1.1"/>
<rect x="394.6" y="518.25" width="33.2" height="18.15" fill="#fff"/><path d="M397.5 518.8h1.5v1.08h-1.5zM403.5 518.8h1.5v1.08h-1.5zM409.5 518.8h1.5v1.08h-1.5zM415.5 518.8h1.5v1.08h-1.5zM421.5 518.8h1.5v1.08h-1.5zM396 519.88h1.5v1.5h-1.5zM402 519.88h1.5v1.5h-1.5zM408 519.88h1.5v1.5h-1.5zM414 519.88h1.5v1.5h-1.5zM420 519.88h1.5v1.5h-1.5zM426 519.88h1.25v1.5h-1.25zM395.15 521.38h0.85v1.5h-0.85zM400.5 521.38h1.5v1.5h-1.5zM406.5 521.38h1.5v1.5h-1.5zM412.5 521.38h1.5v1.5h-1.5zM418.5 521.38h1.5v1.5h-1.5zM424.5 521.38h1.5v1.5h-1.5zM399 522.88h1.5v1.5h-1.5zM405 522.88h1.5v1.5h-1.5zM411 522.88h1.5v1.5h-1.5zM417 522.88h1.5v1.5h-1.5zM423 522.88h1.5v1.5h-1.5zM397.5 524.38h1.5v1.5h-1.5zM403.5 524.38h1.5v1.5h-1.5zM409.5 524.38h1.5v1.5h-1.5zM415.5 524.38h1.5v1.5h-1.5zM421.5 524.38h1.5v1.5h-1.5zM396 525.88h1.5v1.5h-1.5zM402 525.88h1.5v1.5h-1.5zM408 525.88h1.5v1.5h-1.5zM414 525.88h1.5v1.5h-1.5zM420 525.88h1.5v1.5h-1.5zM426 525.88h1.25v1.5h-1.25zM395.15 527.38h0.85v1.5h-0.85zM400.5 527.38h1.5v1.5h-1.5zM406.5 527.38h1.5v1.5h-1.5zM412.5 527.38h1.5v1.5h-1.5zM418.5 527.38h1.5v1.5h-1.5zM424.5 527.38h1.5v1.5h-1.5zM399 528.88h1.5v1.5h-1.5zM405 528.88h1.5v1.5h-1.5zM411 528.88h1.5v1.5h-1.5zM417 528.88h1.5v1.5h-1.5zM423 528.88h1.5v1.5h-1.5zM397.5 530.38h1.5v1.5h-1.5zM403.5 530.38h1.5v1.5h-1.5zM409.5 530.38h1.5v1.5h-1.5zM415.5 530.38h1.5v1.5h-1.5zM421.5 530.38h1.5v1.5h-1.5zM396 531.88h1.5v1.5h-1.5zM402 531.88h1.5v1.5h-1.5zM408 531.88h1.5v1.5h-1.5zM414 531.88h1.5v1.5h-1.5zM420 531.88h1.5v1.5h-1.5zM426 531.88h1.25v1.5h-1.25zM395.15 533.38h0.85v1.5h-0.85zM400.5 533.38h1.5v1.5h-1.5zM406.5 533.38h1.5v1.5h-1.5zM412.5 533.38h1.5v1.5h-1.5zM418.5 533.38h1.5v1.5h-1.5zM424.5 533.38h1.5v1.5h-1.5zM399 534.88h1.5v1.5h-1.5zM405 534.88h1.5v1.5h-1.5zM411 534.88h1.5v1.5h-1.5zM417 534.88h1.5v1.5h-1.5zM423 534.88h1.5v1.5h-1.5z" fill="#000"/><rect x="395.15" y="518.8" width="32.1" height="17.6" fill="none" stroke="#000" stroke-width="1.1"/>
<rect x="468" y="524.5" width="32.6" height="11.9" fill="#000"/>
<rect x="502" y="524.5" width="32.6" height="11.9" fill="#fff"/><path d="M510.04 525.05h2.9v2.28h-2.9zM522.04 525.05h2.9v2.28h-2.9zM502.55 525.91h2.83v2.9h-2.83zM514.48 525.91h2.9v2.9h-2.9zM526.48 525.91h2.9v2.9h-2.9zM507.04 527.4h2.9v2.9h-2.9zM519.04 527.4h2.9v2.9h-2.9zM531.04 527.4h2.9v2.9h-2.9zM502.55 530.43h1.34v2.9h-1.34zM512.99 530.43h2.9v2.9h-2.9zM524.99 530.43h2.9v2.9h-2.9zM508.55 531.73h2.9v2.9h-2.9zM520.55 531.73h2.9v2.9h-2.9zM532.55 531.73h1.5v2.9h-1.5zM504.05 533.36h2.9v2.9h-2.9zM516.05 533.36h2.9v2.9h-2.9zM528.05 533.36h2.9v2.9h-2.9z" fill="#000"/><rect x="502.55" y="525.05" width="31.5" height="11.35" fill="none" stroke="#000" stroke-width="1.1"/>
<rect x="536.25" y="524.25" width="32.65" height="12.15" fill="#fff"/><path d="M536.8 524.8h0.2v1.08h-0.2zM541.5 524.8h1.5v1.08h-1.5zM547.5 524.8h1.5v1.08h-1.5zM553.5 524.8h1.5v1.08h-1.5zM559.5 524.8h1.5v1.08h-1.5zM565.5 524.8h1.5v1.08h-1.5zM540 525.88h1.5v1.5h-1.5zM546 525.88h1.5v1.5h-1.5zM552 525.88h1.5v1.5h-1.5zM558 525.88h1.5v1.5h-1.5zM564 525.88h1.5v1.5h-1.5zM538.5 527.38h1.5v1.5h-1.5zM544.5 527.38h1.5v1.5h-1.5zM550.5 527.38h1.5v1.5h-1.5zM556.5 527.38h1.5v1.5h-1.5zM562.5 527.38h1.5v1.5h-1.5zM537 528.88h1.5v1.5h-1.5zM543 528.88h1.5v1.5h-1.5zM549 528.88h1.5v1.5h-1.5zM555 528.88h1.5v1.5h-1.5zM561 528.88h1.5v1.5h-1.5zM567 528.88h1.35v1.5h-1.35zM536.8 530.38h0.2v1.5h-0.2zM541.5 530.38h1.5v1.5h-1.5zM547.5 530.38h1.5v1.5h-1.5zM553.5 530.38h1.5v1.5h-1.5zM559.5 530.38h1.5v1.5h-1.5zM565.5 530.38h1.5v1.5h-1.5zM540 531.88h1.5v1.5h-1.5zM546 531.88h1.5v1.5h-1.5zM552 531.88h1.5v1.5h-1.5zM558 531.88h1.5v1.5h-1.5zM564 531.88h1.5v1.5h-1.5zM538.5 533.38h1.5v1.5h-1.5zM544.5 533.38h1.5v1.5h-1.5zM550.5 533.38h1.5v1.5h-1.5zM556.5 533.38h1.5v1.5h-1.5zM562.5 533.38h1.5v1.5h-1.5zM537 534.88h1.5v1.5h-1.5zM543 534.88h1.5v1.5h-1.5zM549 534.88h1.5v1.5h-1.5zM555 534.88h1.5v1.5h-1.5zM561 534.88h1.5v1.5h-1.5zM567 534.88h1.35v1.5h-1.35z" fill="#000"/><rect x="536.8" y="524.8" width="31.55" height="11.6" fill="none" stroke="#000" stroke-width="1.1"/>
<rect x="609" y="525.5" width="33" height="10.9" fill="#000"/>
<rect x="643" y="530" width="32.75" height="6.4" fill="#fff"/><path d="M644.99 530.55h2.9v2.78h-2.9zM656.99 530.55h2.9v2.78h-2.9zM668.99 530.55h2.9v2.78h-2.9zM652.55 531.73h2.9v2.9h-2.9zM664.55 531.73h2.9v2.9h-2.9zM648.05 533.36h2.9v2.9h-2.9zM660.05 533.36h2.9v2.9h-2.9zM672.05 533.36h2.9v2.9h-2.9z" fill="#000"/><rect x="643.55" y="530.55" width="31.65" height="5.85" fill="none" stroke="#000" stroke-width="1.1"/>
<rect x="677" y="532.5" width="33.75" height="3.9" fill="#fff"/><path d="M678 533.05h1.5v0.33h-1.5zM684 533.05h1.5v0.33h-1.5zM690 533.05h1.5v0.33h-1.5zM696 533.05h1.5v0.33h-1.5zM702 533.05h1.5v0.33h-1.5zM708 533.05h1.5v0.33h-1.5zM677.55 533.38h0.45v1.5h-0.45zM682.5 533.38h1.5v1.5h-1.5zM688.5 533.38h1.5v1.5h-1.5zM694.5 533.38h1.5v1.5h-1.5zM700.5 533.38h1.5v1.5h-1.5zM706.5 533.38h1.5v1.5h-1.5zM681 534.88h1.5v1.5h-1.5zM687 534.88h1.5v1.5h-1.5zM693 534.88h1.5v1.5h-1.5zM699 534.88h1.5v1.5h-1.5zM705 534.88h1.5v1.5h-1.5z" fill="#000"/><rect x="677.55" y="533.05" width="32.65" height="3.35" fill="none" stroke="#000" stroke-width="1.1"/>
<line x1="164.5" y1="360" x2="164.5" y2="541.4" stroke="#2a2a2a" stroke-width="1.3"/>
<line x1="159.7" y1="536.4" x2="730.5" y2="536.4" stroke="#000" stroke-width="1.35"/>
<text transform="translate(128.82,541.6) skewY(0.05) scale(1.013,1)" font-size="16" stroke="#000" stroke-width="0.3">0.0</text>
<line x1="159.7" y1="501.12" x2="164.5" y2="501.12" stroke="#000" stroke-width="1.1"/>
<text transform="translate(128.56,506.32) skewY(0.05) scale(1.013,1)" font-size="16" stroke="#000" stroke-width="0.3">0.1</text>
<line x1="159.7" y1="465.84" x2="164.5" y2="465.84" stroke="#000" stroke-width="1.1"/>
<text transform="translate(128.82,471.04) skewY(0.05) scale(1.013,1)" font-size="16" stroke="#000" stroke-width="0.3">0.2</text>
<line x1="159.7" y1="430.56" x2="164.5" y2="430.56" stroke="#000" stroke-width="1.1"/>
<text transform="translate(128.82,435.76) skewY(0.05) scale(1.013,1)" font-size="16" stroke="#000" stroke-width="0.3">0.3</text>
<line x1="159.7" y1="395.28" x2="164.5" y2="395.28" stroke="#000" stroke-width="1.1"/>
<text transform="translate(128.31,400.48) skewY(0.05) scale(1.013,1)" font-size="16" stroke="#000" stroke-width="0.3">0.4</text>
<text transform="translate(128.56,365.2) skewY(0.05) scale(1.013,1)" font-size="16" stroke="#000" stroke-width="0.3">0.5</text>
<line x1="306" y1="536.4" x2="306" y2="541.4" stroke="#000" stroke-width="1"/>
<line x1="447.5" y1="536.4" x2="447.5" y2="541.4" stroke="#000" stroke-width="1"/>
<line x1="589" y1="536.4" x2="589" y2="541.4" stroke="#000" stroke-width="1"/>
<line x1="201.55" y1="486.75" x2="201.55" y2="489.25" stroke="#111" stroke-width="1.2"/>
<line x1="198.25" y1="486.75" x2="204.85" y2="486.75" stroke="#111" stroke-width="1.2"/>
<text transform="translate(196.43,479.2) skewY(0.05) scale(1.06,1)" font-size="15.5" stroke="#000" stroke-width="0.22">b</text>
<line x1="235.4" y1="491" x2="235.4" y2="504" stroke="#111" stroke-width="1.2"/>
<line x1="232.1" y1="491" x2="238.7" y2="491" stroke="#111" stroke-width="1.2"/>
<line x1="232.1" y1="504" x2="238.7" y2="504" stroke="#111" stroke-width="1.2"/>
<text transform="translate(230.73,486.8) skewY(0.05) scale(1.06,1)" font-size="15.5" stroke="#000" stroke-width="0.22">b</text>
<line x1="269.5" y1="498" x2="269.5" y2="505.3" stroke="#111" stroke-width="1.2"/>
<line x1="266.2" y1="498" x2="272.8" y2="498" stroke="#111" stroke-width="1.2"/>
<line x1="266.2" y1="505.3" x2="272.8" y2="505.3" stroke="#111" stroke-width="1.2"/>
<text transform="translate(264.63,490.4) skewY(0.05) scale(1.06,1)" font-size="15.5" stroke="#000" stroke-width="0.22">b</text>
<line x1="342.9" y1="394.5" x2="342.9" y2="408" stroke="#111" stroke-width="1.2"/>
<line x1="339.6" y1="394.5" x2="346.2" y2="394.5" stroke="#111" stroke-width="1.2"/>
<text transform="translate(338,388) skewY(0.05) scale(1.06,1)" font-size="15.5" stroke="#000" stroke-width="0.22">a</text>
<line x1="376.7" y1="519.75" x2="376.7" y2="530" stroke="#111" stroke-width="1.2"/>
<line x1="373.4" y1="519.75" x2="380" y2="519.75" stroke="#111" stroke-width="1.2"/>
<text transform="translate(367.66,515.3) skewY(0.05) scale(1.06,1)" font-size="15.5" stroke="#000" stroke-width="0.22">cd</text>
<line x1="411.2" y1="514.75" x2="411.2" y2="522.5" stroke="#111" stroke-width="1.2"/>
<line x1="407.9" y1="514.75" x2="414.5" y2="514.75" stroke="#111" stroke-width="1.2"/>
<line x1="407.9" y1="522.5" x2="414.5" y2="522.5" stroke="#111" stroke-width="1.2"/>
<text transform="translate(406.56,508.3) skewY(0.05) scale(1.06,1)" font-size="15.5" stroke="#000" stroke-width="0.22">c</text>
<line x1="484.3" y1="517.5" x2="484.3" y2="524.5" stroke="#111" stroke-width="1.2"/>
<line x1="481" y1="517.5" x2="487.6" y2="517.5" stroke="#111" stroke-width="1.2"/>
<text transform="translate(475.06,514.5) skewY(0.05) scale(1.06,1)" font-size="15.5" stroke="#000" stroke-width="0.22">cd</text>
<line x1="518.3" y1="521.75" x2="518.3" y2="527.8" stroke="#111" stroke-width="1.2"/>
<line x1="515" y1="521.75" x2="521.6" y2="521.75" stroke="#111" stroke-width="1.2"/>
<line x1="515" y1="527.8" x2="521.6" y2="527.8" stroke="#111" stroke-width="1.2"/>
<text transform="translate(507.36,518.1) skewY(0.05) scale(1.06,1)" font-size="15.5" stroke="#000" stroke-width="0.22">cd</text>
<line x1="552.58" y1="519.25" x2="552.58" y2="530" stroke="#111" stroke-width="1.2"/>
<line x1="549.28" y1="519.25" x2="555.88" y2="519.25" stroke="#111" stroke-width="1.2"/>
<line x1="549.28" y1="530" x2="555.88" y2="530" stroke="#111" stroke-width="1.2"/>
<text transform="translate(542.96,514) skewY(0.05) scale(1.06,1)" font-size="15.5" stroke="#000" stroke-width="0.22">cd</text>
<line x1="625.5" y1="523.5" x2="625.5" y2="525.5" stroke="#111" stroke-width="1.2"/>
<line x1="622.2" y1="523.5" x2="628.8" y2="523.5" stroke="#111" stroke-width="1.2"/>
<text transform="translate(616.36,516.4) skewY(0.05) scale(1.06,1)" font-size="15.5" stroke="#000" stroke-width="0.22">cd</text>
<line x1="659.38" y1="528.75" x2="659.38" y2="531" stroke="#111" stroke-width="1.2"/>
<line x1="656.08" y1="528.75" x2="662.67" y2="528.75" stroke="#111" stroke-width="1.2"/>
<line x1="656.08" y1="531" x2="662.67" y2="531" stroke="#111" stroke-width="1.2"/>
<text transform="translate(648.16,521.8) skewY(0.05) scale(1.06,1)" font-size="15.5" stroke="#000" stroke-width="0.22">cd</text>
<text transform="translate(689.03,522.4) skewY(0.05) scale(1.06,1)" font-size="15.5" stroke="#000" stroke-width="0.22">d</text>
<text transform="translate(192.38,561.45) skewY(0.05) scale(1.0343,1)" font-size="16" stroke="#000" stroke-width="0.3">-ve Control</text>
<text transform="translate(347.68,561.45) skewY(0.05) scale(1.0383,1)" font-size="16" stroke="#000" stroke-width="0.3">2% FYM</text>
<text transform="translate(455.18,561.45) skewY(0.05) scale(1.0311,1)" font-size="16" stroke="#000" stroke-width="0.3">+ve Control (MP)</text>
<text transform="translate(608.82,561.45) skewY(0.05) scale(1.0229,1)" font-size="16" stroke="#000" stroke-width="0.3">2% FYM + MP</text>
<text transform="translate(372.4,601.6) skewY(0.05) scale(1.038,1)" font-size="16" stroke="#000" stroke-width="0.3">Treatments</text>
<text transform="translate(88.7,456) rotate(-90)" text-anchor="middle" font-size="18" stroke="#000" stroke-width="0.35">Normalised fold expression</text>
<text transform="translate(109.5,456) rotate(-90)" text-anchor="middle" font-size="18" stroke="#000" stroke-width="0.35">of CRY 1 gene</text>
<line x1="168" y1="647.2" x2="739" y2="647.2" stroke="#222" stroke-width="1.2"/>
<line x1="738.5" y1="647.2" x2="738.5" y2="828.5" stroke="#000" stroke-width="1"/>
<rect x="193.9" y="818.6" width="32.4" height="4.9" fill="#000"/>
<rect x="227.75" y="728.25" width="32.45" height="95.25" fill="#fff"/><path d="M234.04 728.8h2.9v2.05h-2.9zM234.04 739.95h2.9v2.9h-2.9zM234.04 751.95h2.9v2.9h-2.9zM234.04 763.95h2.9v2.9h-2.9zM234.04 775.95h2.9v2.9h-2.9zM234.04 787.95h2.9v2.9h-2.9zM234.04 799.95h2.9v2.9h-2.9zM234.04 811.95h2.9v2.9h-2.9zM246.04 728.8h2.9v2.05h-2.9zM246.04 739.95h2.9v2.9h-2.9zM246.04 751.95h2.9v2.9h-2.9zM246.04 763.95h2.9v2.9h-2.9zM246.04 775.95h2.9v2.9h-2.9zM246.04 787.95h2.9v2.9h-2.9zM246.04 799.95h2.9v2.9h-2.9zM246.04 811.95h2.9v2.9h-2.9zM258.04 728.8h1.61v2.05h-1.61zM258.04 739.95h1.61v2.9h-1.61zM258.04 751.95h1.61v2.9h-1.61zM258.04 763.95h1.61v2.9h-1.61zM258.04 775.95h1.61v2.9h-1.61zM258.04 787.95h1.61v2.9h-1.61zM258.04 799.95h1.61v2.9h-1.61zM258.04 811.95h1.61v2.9h-1.61zM228.3 729.43h1.08v2.9h-1.08zM228.3 741.43h1.08v2.9h-1.08zM228.3 753.43h1.08v2.9h-1.08zM228.3 765.43h1.08v2.9h-1.08zM228.3 777.43h1.08v2.9h-1.08zM228.3 789.43h1.08v2.9h-1.08zM228.3 801.43h1.08v2.9h-1.08zM228.3 813.43h1.08v2.9h-1.08zM238.48 729.43h2.9v2.9h-2.9zM238.48 741.43h2.9v2.9h-2.9zM238.48 753.43h2.9v2.9h-2.9zM238.48 765.43h2.9v2.9h-2.9zM238.48 777.43h2.9v2.9h-2.9zM238.48 789.43h2.9v2.9h-2.9zM238.48 801.43h2.9v2.9h-2.9zM238.48 813.43h2.9v2.9h-2.9zM250.48 729.43h2.9v2.9h-2.9zM250.48 741.43h2.9v2.9h-2.9zM250.48 753.43h2.9v2.9h-2.9zM250.48 765.43h2.9v2.9h-2.9zM250.48 777.43h2.9v2.9h-2.9zM250.48 789.43h2.9v2.9h-2.9zM250.48 801.43h2.9v2.9h-2.9zM250.48 813.43h2.9v2.9h-2.9zM231.04 730.92h2.9v2.9h-2.9zM231.04 742.92h2.9v2.9h-2.9zM231.04 754.92h2.9v2.9h-2.9zM231.04 766.92h2.9v2.9h-2.9zM231.04 778.92h2.9v2.9h-2.9zM231.04 790.92h2.9v2.9h-2.9zM231.04 802.92h2.9v2.9h-2.9zM231.04 814.92h2.9v2.9h-2.9zM243.04 730.92h2.9v2.9h-2.9zM243.04 742.92h2.9v2.9h-2.9zM243.04 754.92h2.9v2.9h-2.9zM243.04 766.92h2.9v2.9h-2.9zM243.04 778.92h2.9v2.9h-2.9zM243.04 790.92h2.9v2.9h-2.9zM243.04 802.92h2.9v2.9h-2.9zM243.04 814.92h2.9v2.9h-2.9zM255.04 730.92h2.9v2.9h-2.9zM255.04 742.92h2.9v2.9h-2.9zM255.04 754.92h2.9v2.9h-2.9zM255.04 766.92h2.9v2.9h-2.9zM255.04 778.92h2.9v2.9h-2.9zM255.04 790.92h2.9v2.9h-2.9zM255.04 802.92h2.9v2.9h-2.9zM255.04 814.92h2.9v2.9h-2.9zM236.99 733.95h2.9v2.9h-2.9zM236.99 745.95h2.9v2.9h-2.9zM236.99 757.95h2.9v2.9h-2.9zM236.99 769.95h2.9v2.9h-2.9zM236.99 781.95h2.9v2.9h-2.9zM236.99 793.95h2.9v2.9h-2.9zM236.99 805.95h2.9v2.9h-2.9zM236.99 817.95h2.9v2.9h-2.9zM248.99 733.95h2.9v2.9h-2.9zM248.99 745.95h2.9v2.9h-2.9zM248.99 757.95h2.9v2.9h-2.9zM248.99 769.95h2.9v2.9h-2.9zM248.99 781.95h2.9v2.9h-2.9zM248.99 793.95h2.9v2.9h-2.9zM248.99 805.95h2.9v2.9h-2.9zM248.99 817.95h2.9v2.9h-2.9zM232.55 735.25h2.9v2.9h-2.9zM232.55 747.25h2.9v2.9h-2.9zM232.55 759.25h2.9v2.9h-2.9zM232.55 771.25h2.9v2.9h-2.9zM232.55 783.25h2.9v2.9h-2.9zM232.55 795.25h2.9v2.9h-2.9zM232.55 807.25h2.9v2.9h-2.9zM232.55 819.25h2.9v2.9h-2.9zM244.55 735.25h2.9v2.9h-2.9zM244.55 747.25h2.9v2.9h-2.9zM244.55 759.25h2.9v2.9h-2.9zM244.55 771.25h2.9v2.9h-2.9zM244.55 783.25h2.9v2.9h-2.9zM244.55 795.25h2.9v2.9h-2.9zM244.55 807.25h2.9v2.9h-2.9zM244.55 819.25h2.9v2.9h-2.9zM256.55 735.25h2.9v2.9h-2.9zM256.55 747.25h2.9v2.9h-2.9zM256.55 759.25h2.9v2.9h-2.9zM256.55 771.25h2.9v2.9h-2.9zM256.55 783.25h2.9v2.9h-2.9zM256.55 795.25h2.9v2.9h-2.9zM256.55 807.25h2.9v2.9h-2.9zM256.55 819.25h2.9v2.9h-2.9zM228.3 736.88h2.65v2.9h-2.65zM228.3 748.88h2.65v2.9h-2.65zM228.3 760.88h2.65v2.9h-2.65zM228.3 772.88h2.65v2.9h-2.65zM228.3 784.88h2.65v2.9h-2.65zM228.3 796.88h2.65v2.9h-2.65zM228.3 808.88h2.65v2.9h-2.65zM228.3 820.88h2.65v2.62h-2.65zM240.05 736.88h2.9v2.9h-2.9zM240.05 748.88h2.9v2.9h-2.9zM240.05 760.88h2.9v2.9h-2.9zM240.05 772.88h2.9v2.9h-2.9zM240.05 784.88h2.9v2.9h-2.9zM240.05 796.88h2.9v2.9h-2.9zM240.05 808.88h2.9v2.9h-2.9zM240.05 820.88h2.9v2.62h-2.9zM252.05 736.88h2.9v2.9h-2.9zM252.05 748.88h2.9v2.9h-2.9zM252.05 760.88h2.9v2.9h-2.9zM252.05 772.88h2.9v2.9h-2.9zM252.05 784.88h2.9v2.9h-2.9zM252.05 796.88h2.9v2.9h-2.9zM252.05 808.88h2.9v2.9h-2.9zM252.05 820.88h2.9v2.62h-2.9z" fill="#000"/><rect x="228.3" y="728.8" width="31.35" height="94.7" fill="none" stroke="#000" stroke-width="1.1"/>
<rect x="261.75" y="708.5" width="32.65" height="115" fill="#fff"/><path d="M262.3 709.05h0.2v0.85h-0.2zM267 709.05h1.5v0.85h-1.5zM273 709.05h1.5v0.85h-1.5zM279 709.05h1.5v0.85h-1.5zM285 709.05h1.5v0.85h-1.5zM291 709.05h1.5v0.85h-1.5zM265.5 709.9h1.5v1.5h-1.5zM271.5 709.9h1.5v1.5h-1.5zM277.5 709.9h1.5v1.5h-1.5zM283.5 709.9h1.5v1.5h-1.5zM289.5 709.9h1.5v1.5h-1.5zM264 711.4h1.5v1.5h-1.5zM270 711.4h1.5v1.5h-1.5zM276 711.4h1.5v1.5h-1.5zM282 711.4h1.5v1.5h-1.5zM288 711.4h1.5v1.5h-1.5zM262.5 712.9h1.5v1.5h-1.5zM268.5 712.9h1.5v1.5h-1.5zM274.5 712.9h1.5v1.5h-1.5zM280.5 712.9h1.5v1.5h-1.5zM286.5 712.9h1.5v1.5h-1.5zM292.5 712.9h1.35v1.5h-1.35zM262.3 714.4h0.2v1.5h-0.2zM267 714.4h1.5v1.5h-1.5zM273 714.4h1.5v1.5h-1.5zM279 714.4h1.5v1.5h-1.5zM285 714.4h1.5v1.5h-1.5zM291 714.4h1.5v1.5h-1.5zM265.5 715.9h1.5v1.5h-1.5zM271.5 715.9h1.5v1.5h-1.5zM277.5 715.9h1.5v1.5h-1.5zM283.5 715.9h1.5v1.5h-1.5zM289.5 715.9h1.5v1.5h-1.5zM264 717.4h1.5v1.5h-1.5zM270 717.4h1.5v1.5h-1.5zM276 717.4h1.5v1.5h-1.5zM282 717.4h1.5v1.5h-1.5zM288 717.4h1.5v1.5h-1.5zM262.5 718.9h1.5v1.5h-1.5zM268.5 718.9h1.5v1.5h-1.5zM274.5 718.9h1.5v1.5h-1.5zM280.5 718.9h1.5v1.5h-1.5zM286.5 718.9h1.5v1.5h-1.5zM292.5 718.9h1.35v1.5h-1.35zM262.3 720.4h0.2v1.5h-0.2zM267 720.4h1.5v1.5h-1.5zM273 720.4h1.5v1.5h-1.5zM279 720.4h1.5v1.5h-1.5zM285 720.4h1.5v1.5h-1.5zM291 720.4h1.5v1.5h-1.5zM265.5 721.9h1.5v1.5h-1.5zM271.5 721.9h1.5v1.5h-1.5zM277.5 721.9h1.5v1.5h-1.5zM283.5 721.9h1.5v1.5h-1.5zM289.5 721.9h1.5v1.5h-1.5zM264 723.4h1.5v1.5h-1.5zM270 723.4h1.5v1.5h-1.5zM276 723.4h1.5v1.5h-1.5zM282 723.4h1.5v1.5h-1.5zM288 723.4h1.5v1.5h-1.5zM262.5 724.9h1.5v1.5h-1.5zM268.5 724.9h1.5v1.5h-1.5zM274.5 724.9h1.5v1.5h-1.5zM280.5 724.9h1.5v1.5h-1.5zM286.5 724.9h1.5v1.5h-1.5zM292.5 724.9h1.35v1.5h-1.35zM262.3 726.4h0.2v1.5h-0.2zM267 726.4h1.5v1.5h-1.5zM273 726.4h1.5v1.5h-1.5zM279 726.4h1.5v1.5h-1.5zM285 726.4h1.5v1.5h-1.5zM291 726.4h1.5v1.5h-1.5zM265.5 727.9h1.5v1.5h-1.5zM271.5 727.9h1.5v1.5h-1.5zM277.5 727.9h1.5v1.5h-1.5zM283.5 727.9h1.5v1.5h-1.5zM289.5 727.9h1.5v1.5h-1.5zM264 729.4h1.5v1.5h-1.5zM270 729.4h1.5v1.5h-1.5zM276 729.4h1.5v1.5h-1.5zM282 729.4h1.5v1.5h-1.5zM288 729.4h1.5v1.5h-1.5zM262.5 730.9h1.5v1.5h-1.5zM268.5 730.9h1.5v1.5h-1.5zM274.5 730.9h1.5v1.5h-1.5zM280.5 730.9h1.5v1.5h-1.5zM286.5 730.9h1.5v1.5h-1.5zM292.5 730.9h1.35v1.5h-1.35zM262.3 732.4h0.2v1.5h-0.2zM267 732.4h1.5v1.5h-1.5zM273 732.4h1.5v1.5h-1.5zM279 732.4h1.5v1.5h-1.5zM285 732.4h1.5v1.5h-1.5zM291 732.4h1.5v1.5h-1.5zM265.5 733.9h1.5v1.5h-1.5zM271.5 733.9h1.5v1.5h-1.5zM277.5 733.9h1.5v1.5h-1.5zM283.5 733.9h1.5v1.5h-1.5zM289.5 733.9h1.5v1.5h-1.5zM264 735.4h1.5v1.5h-1.5zM270 735.4h1.5v1.5h-1.5zM276 735.4h1.5v1.5h-1.5zM282 735.4h1.5v1.5h-1.5zM288 735.4h1.5v1.5h-1.5zM262.5 736.9h1.5v1.5h-1.5zM268.5 736.9h1.5v1.5h-1.5zM274.5 736.9h1.5v1.5h-1.5zM280.5 736.9h1.5v1.5h-1.5zM286.5 736.9h1.5v1.5h-1.5zM292.5 736.9h1.35v1.5h-1.35zM262.3 738.4h0.2v1.5h-0.2zM267 738.4h1.5v1.5h-1.5zM273 738.4h1.5v1.5h-1.5zM279 738.4h1.5v1.5h-1.5zM285 738.4h1.5v1.5h-1.5zM291 738.4h1.5v1.5h-1.5zM265.5 739.9h1.5v1.5h-1.5zM271.5 739.9h1.5v1.5h-1.5zM277.5 739.9h1.5v1.5h-1.5zM283.5 739.9h1.5v1.5h-1.5zM289.5 739.9h1.5v1.5h-1.5zM264 741.4h1.5v1.5h-1.5zM270 741.4h1.5v1.5h-1.5zM276 741.4h1.5v1.5h-1.5zM282 741.4h1.5v1.5h-1.5zM288 741.4h1.5v1.5h-1.5zM262.5 742.9h1.5v1.5h-1.5zM268.5 742.9h1.5v1.5h-1.5zM274.5 742.9h1.5v1.5h-1.5zM280.5 742.9h1.5v1.5h-1.5zM286.5 742.9h1.5v1.5h-1.5zM292.5 742.9h1.35v1.5h-1.35zM262.3 744.4h0.2v1.5h-0.2zM267 744.4h1.5v1.5h-1.5zM273 744.4h1.5v1.5h-1.5zM279 744.4h1.5v1.5h-1.5zM285 744.4h1.5v1.5h-1.5zM291 744.4h1.5v1.5h-1.5zM265.5 745.9h1.5v1.5h-1.5zM271.5 745.9h1.5v1.5h-1.5zM277.5 745.9h1.5v1.5h-1.5zM283.5 745.9h1.5v1.5h-1.5zM289.5 745.9h1.5v1.5h-1.5zM264 747.4h1.5v1.5h-1.5zM270 747.4h1.5v1.5h-1.5zM276 747.4h1.5v1.5h-1.5zM282 747.4h1.5v1.5h-1.5zM288 747.4h1.5v1.5h-1.5zM262.5 748.9h1.5v1.5h-1.5zM268.5 748.9h1.5v1.5h-1.5zM274.5 748.9h1.5v1.5h-1.5zM280.5 748.9h1.5v1.5h-1.5zM286.5 748.9h1.5v1.5h-1.5zM292.5 748.9h1.35v1.5h-1.35zM262.3 750.4h0.2v1.5h-0.2zM267 750.4h1.5v1.5h-1.5zM273 750.4h1.5v1.5h-1.5zM279 750.4h1.5v1.5h-1.5zM285 750.4h1.5v1.5h-1.5zM291 750.4h1.5v1.5h-1.5zM265.5 751.9h1.5v1.5h-1.5zM271.5 751.9h1.5v1.5h-1.5zM277.5 751.9h1.5v1.5h-1.5zM283.5 751.9h1.5v1.5h-1.5zM289.5 751.9h1.5v1.5h-1.5zM264 753.4h1.5v1.5h-1.5zM270 753.4h1.5v1.5h-1.5zM276 753.4h1.5v1.5h-1.5zM282 753.4h1.5v1.5h-1.5zM288 753.4h1.5v1.5h-1.5zM262.5 754.9h1.5v1.5h-1.5zM268.5 754.9h1.5v1.5h-1.5zM274.5 754.9h1.5v1.5h-1.5zM280.5 754.9h1.5v1.5h-1.5zM286.5 754.9h1.5v1.5h-1.5zM292.5 754.9h1.35v1.5h-1.35zM262.3 756.4h0.2v1.5h-0.2zM267 756.4h1.5v1.5h-1.5zM273 756.4h1.5v1.5h-1.5zM279 756.4h1.5v1.5h-1.5zM285 756.4h1.5v1.5h-1.5zM291 756.4h1.5v1.5h-1.5zM265.5 757.9h1.5v1.5h-1.5zM271.5 757.9h1.5v1.5h-1.5zM277.5 757.9h1.5v1.5h-1.5zM283.5 757.9h1.5v1.5h-1.5zM289.5 757.9h1.5v1.5h-1.5zM264 759.4h1.5v1.5h-1.5zM270 759.4h1.5v1.5h-1.5zM276 759.4h1.5v1.5h-1.5zM282 759.4h1.5v1.5h-1.5zM288 759.4h1.5v1.5h-1.5zM262.5 760.9h1.5v1.5h-1.5zM268.5 760.9h1.5v1.5h-1.5zM274.5 760.9h1.5v1.5h-1.5zM280.5 760.9h1.5v1.5h-1.5zM286.5 760.9h1.5v1.5h-1.5zM292.5 760.9h1.35v1.5h-1.35zM262.3 762.4h0.2v1.5h-0.2zM267 762.4h1.5v1.5h-1.5zM273 762.4h1.5v1.5h-1.5zM279 762.4h1.5v1.5h-1.5zM285 762.4h1.5v1.5h-1.5zM291 762.4h1.5v1.5h-1.5zM265.5 763.9h1.5v1.5h-1.5zM271.5 763.9h1.5v1.5h-1.5zM277.5 763.9h1.5v1.5h-1.5zM283.5 763.9h1.5v1.5h-1.5zM289.5 763.9h1.5v1.5h-1.5zM264 765.4h1.5v1.5h-1.5zM270 765.4h1.5v1.5h-1.5zM276 765.4h1.5v1.5h-1.5zM282 765.4h1.5v1.5h-1.5zM288 765.4h1.5v1.5h-1.5zM262.5 766.9h1.5v1.5h-1.5zM268.5 766.9h1.5v1.5h-1.5zM274.5 766.9h1.5v1.5h-1.5zM280.5 766.9h1.5v1.5h-1.5zM286.5 766.9h1.5v1.5h-1.5zM292.5 766.9h1.35v1.5h-1.35zM262.3 768.4h0.2v1.5h-0.2zM267 768.4h1.5v1.5h-1.5zM273 768.4h1.5v1.5h-1.5zM279 768.4h1.5v1.5h-1.5zM285 768.4h1.5v1.5h-1.5zM291 768.4h1.5v1.5h-1.5zM265.5 769.9h1.5v1.5h-1.5zM271.5 769.9h1.5v1.5h-1.5zM277.5 769.9h1.5v1.5h-1.5zM283.5 769.9h1.5v1.5h-1.5zM289.5 769.9h1.5v1.5h-1.5zM264 771.4h1.5v1.5h-1.5zM270 771.4h1.5v1.5h-1.5zM276 771.4h1.5v1.5h-1.5zM282 771.4h1.5v1.5h-1.5zM288 771.4h1.5v1.5h-1.5zM262.5 772.9h1.5v1.5h-1.5zM268.5 772.9h1.5v1.5h-1.5zM274.5 772.9h1.5v1.5h-1.5zM280.5 772.9h1.5v1.5h-1.5zM286.5 772.9h1.5v1.5h-1.5zM292.5 772.9h1.35v1.5h-1.35zM262.3 774.4h0.2v1.5h-0.2zM267 774.4h1.5v1.5h-1.5zM273 774.4h1.5v1.5h-1.5zM279 774.4h1.5v1.5h-1.5zM285 774.4h1.5v1.5h-1.5zM291 774.4h1.5v1.5h-1.5zM265.5 775.9h1.5v1.5h-1.5zM271.5 775.9h1.5v1.5h-1.5zM277.5 775.9h1.5v1.5h-1.5zM283.5 775.9h1.5v1.5h-1.5zM289.5 775.9h1.5v1.5h-1.5zM264 777.4h1.5v1.5h-1.5zM270 777.4h1.5v1.5h-1.5zM276 777.4h1.5v1.5h-1.5zM282 777.4h1.5v1.5h-1.5zM288 777.4h1.5v1.5h-1.5zM262.5 778.9h1.5v1.5h-1.5zM268.5 778.9h1.5v1.5h-1.5zM274.5 778.9h1.5v1.5h-1.5zM280.5 778.9h1.5v1.5h-1.5zM286.5 778.9h1.5v1.5h-1.5zM292.5 778.9h1.35v1.5h-1.35zM262.3 780.4h0.2v1.5h-0.2zM267 780.4h1.5v1.5h-1.5zM273 780.4h1.5v1.5h-1.5zM279 780.4h1.5v1.5h-1.5zM285 780.4h1.5v1.5h-1.5zM291 780.4h1.5v1.5h-1.5zM265.5 781.9h1.5v1.5h-1.5zM271.5 781.9h1.5v1.5h-1.5zM277.5 781.9h1.5v1.5h-1.5zM283.5 781.9h1.5v1.5h-1.5zM289.5 781.9h1.5v1.5h-1.5zM264 783.4h1.5v1.5h-1.5zM270 783.4h1.5v1.5h-1.5zM276 783.4h1.5v1.5h-1.5zM282 783.4h1.5v1.5h-1.5zM288 783.4h1.5v1.5h-1.5zM262.5 784.9h1.5v1.5h-1.5zM268.5 784.9h1.5v1.5h-1.5zM274.5 784.9h1.5v1.5h-1.5zM280.5 784.9h1.5v1.5h-1.5zM286.5 784.9h1.5v1.5h-1.5zM292.5 784.9h1.35v1.5h-1.35zM262.3 786.4h0.2v1.5h-0.2zM267 786.4h1.5v1.5h-1.5zM273 786.4h1.5v1.5h-1.5zM279 786.4h1.5v1.5h-1.5zM285 786.4h1.5v1.5h-1.5zM291 786.4h1.5v1.5h-1.5zM265.5 787.9h1.5v1.5h-1.5zM271.5 787.9h1.5v1.5h-1.5zM277.5 787.9h1.5v1.5h-1.5zM283.5 787.9h1.5v1.5h-1.5zM289.5 787.9h1.5v1.5h-1.5zM264 789.4h1.5v1.5h-1.5zM270 789.4h1.5v1.5h-1.5zM276 789.4h1.5v1.5h-1.5zM282 789.4h1.5v1.5h-1.5zM288 789.4h1.5v1.5h-1.5zM262.5 790.9h1.5v1.5h-1.5zM268.5 790.9h1.5v1.5h-1.5zM274.5 790.9h1.5v1.5h-1.5zM280.5 790.9h1.5v1.5h-1.5zM286.5 790.9h1.5v1.5h-1.5zM292.5 790.9h1.35v1.5h-1.35zM262.3 792.4h0.2v1.5h-0.2zM267 792.4h1.5v1.5h-1.5zM273 792.4h1.5v1.5h-1.5zM279 792.4h1.5v1.5h-1.5zM285 792.4h1.5v1.5h-1.5zM291 792.4h1.5v1.5h-1.5zM265.5 793.9h1.5v1.5h-1.5zM271.5 793.9h1.5v1.5h-1.5zM277.5 793.9h1.5v1.5h-1.5zM283.5 793.9h1.5v1.5h-1.5zM289.5 793.9h1.5v1.5h-1.5zM264 795.4h1.5v1.5h-1.5zM270 795.4h1.5v1.5h-1.5zM276 795.4h1.5v1.5h-1.5zM282 795.4h1.5v1.5h-1.5zM288 795.4h1.5v1.5h-1.5zM262.5 796.9h1.5v1.5h-1.5zM268.5 796.9h1.5v1.5h-1.5zM274.5 796.9h1.5v1.5h-1.5zM280.5 796.9h1.5v1.5h-1.5zM286.5 796.9h1.5v1.5h-1.5zM292.5 796.9h1.35v1.5h-1.35zM262.3 798.4h0.2v1.5h-0.2zM267 798.4h1.5v1.5h-1.5zM273 798.4h1.5v1.5h-1.5zM279 798.4h1.5v1.5h-1.5zM285 798.4h1.5v1.5h-1.5zM291 798.4h1.5v1.5h-1.5zM265.5 799.9h1.5v1.5h-1.5zM271.5 799.9h1.5v1.5h-1.5zM277.5 799.9h1.5v1.5h-1.5zM283.5 799.9h1.5v1.5h-1.5zM289.5 799.9h1.5v1.5h-1.5zM264 801.4h1.5v1.5h-1.5zM270 801.4h1.5v1.5h-1.5zM276 801.4h1.5v1.5h-1.5zM282 801.4h1.5v1.5h-1.5zM288 801.4h1.5v1.5h-1.5zM262.5 802.9h1.5v1.5h-1.5zM268.5 802.9h1.5v1.5h-1.5zM274.5 802.9h1.5v1.5h-1.5zM280.5 802.9h1.5v1.5h-1.5zM286.5 802.9h1.5v1.5h-1.5zM292.5 802.9h1.35v1.5h-1.35zM262.3 804.4h0.2v1.5h-0.2zM267 804.4h1.5v1.5h-1.5zM273 804.4h1.5v1.5h-1.5zM279 804.4h1.5v1.5h-1.5zM285 804.4h1.5v1.5h-1.5zM291 804.4h1.5v1.5h-1.5zM265.5 805.9h1.5v1.5h-1.5zM271.5 805.9h1.5v1.5h-1.5zM277.5 805.9h1.5v1.5h-1.5zM283.5 805.9h1.5v1.5h-1.5zM289.5 805.9h1.5v1.5h-1.5zM264 807.4h1.5v1.5h-1.5zM270 807.4h1.5v1.5h-1.5zM276 807.4h1.5v1.5h-1.5zM282 807.4h1.5v1.5h-1.5zM288 807.4h1.5v1.5h-1.5zM262.5 808.9h1.5v1.5h-1.5zM268.5 808.9h1.5v1.5h-1.5zM274.5 808.9h1.5v1.5h-1.5zM280.5 808.9h1.5v1.5h-1.5zM286.5 808.9h1.5v1.5h-1.5zM292.5 808.9h1.35v1.5h-1.35zM262.3 810.4h0.2v1.5h-0.2zM267 810.4h1.5v1.5h-1.5zM273 810.4h1.5v1.5h-1.5zM279 810.4h1.5v1.5h-1.5zM285 810.4h1.5v1.5h-1.5zM291 810.4h1.5v1.5h-1.5zM265.5 811.9h1.5v1.5h-1.5zM271.5 811.9h1.5v1.5h-1.5zM277.5 811.9h1.5v1.5h-1.5zM283.5 811.9h1.5v1.5h-1.5zM289.5 811.9h1.5v1.5h-1.5zM264 813.4h1.5v1.5h-1.5zM270 813.4h1.5v1.5h-1.5zM276 813.4h1.5v1.5h-1.5zM282 813.4h1.5v1.5h-1.5zM288 813.4h1.5v1.5h-1.5zM262.5 814.9h1.5v1.5h-1.5zM268.5 814.9h1.5v1.5h-1.5zM274.5 814.9h1.5v1.5h-1.5zM280.5 814.9h1.5v1.5h-1.5zM286.5 814.9h1.5v1.5h-1.5zM292.5 814.9h1.35v1.5h-1.35zM262.3 816.4h0.2v1.5h-0.2zM267 816.4h1.5v1.5h-1.5zM273 816.4h1.5v1.5h-1.5zM279 816.4h1.5v1.5h-1.5zM285 816.4h1.5v1.5h-1.5zM291 816.4h1.5v1.5h-1.5zM265.5 817.9h1.5v1.5h-1.5zM271.5 817.9h1.5v1.5h-1.5zM277.5 817.9h1.5v1.5h-1.5zM283.5 817.9h1.5v1.5h-1.5zM289.5 817.9h1.5v1.5h-1.5zM264 819.4h1.5v1.5h-1.5zM270 819.4h1.5v1.5h-1.5zM276 819.4h1.5v1.5h-1.5zM282 819.4h1.5v1.5h-1.5zM288 819.4h1.5v1.5h-1.5zM262.5 820.9h1.5v1.5h-1.5zM268.5 820.9h1.5v1.5h-1.5zM274.5 820.9h1.5v1.5h-1.5zM280.5 820.9h1.5v1.5h-1.5zM286.5 820.9h1.5v1.5h-1.5zM292.5 820.9h1.35v1.5h-1.35zM262.3 822.4h0.2v1.1h-0.2zM267 822.4h1.5v1.1h-1.5zM273 822.4h1.5v1.1h-1.5zM279 822.4h1.5v1.1h-1.5zM285 822.4h1.5v1.1h-1.5zM291 822.4h1.5v1.1h-1.5z" fill="#000"/><rect x="262.3" y="709.05" width="31.55" height="114.45" fill="none" stroke="#000" stroke-width="1.1"/>
<rect x="335" y="814.5" width="32.7" height="9" fill="#000"/>
<rect x="368.85" y="764.4" width="32.55" height="59.1" fill="#fff"/><path d="M378.04 764.95h2.9v1.9h-2.9zM378.04 775.95h2.9v2.9h-2.9zM378.04 787.95h2.9v2.9h-2.9zM378.04 799.95h2.9v2.9h-2.9zM378.04 811.95h2.9v2.9h-2.9zM390.04 764.95h2.9v1.9h-2.9zM390.04 775.95h2.9v2.9h-2.9zM390.04 787.95h2.9v2.9h-2.9zM390.04 799.95h2.9v2.9h-2.9zM390.04 811.95h2.9v2.9h-2.9zM370.48 765.43h2.9v2.9h-2.9zM370.48 777.43h2.9v2.9h-2.9zM370.48 789.43h2.9v2.9h-2.9zM370.48 801.43h2.9v2.9h-2.9zM370.48 813.43h2.9v2.9h-2.9zM382.48 765.43h2.9v2.9h-2.9zM382.48 777.43h2.9v2.9h-2.9zM382.48 789.43h2.9v2.9h-2.9zM382.48 801.43h2.9v2.9h-2.9zM382.48 813.43h2.9v2.9h-2.9zM394.48 765.43h2.9v2.9h-2.9zM394.48 777.43h2.9v2.9h-2.9zM394.48 789.43h2.9v2.9h-2.9zM394.48 801.43h2.9v2.9h-2.9zM394.48 813.43h2.9v2.9h-2.9zM375.04 766.92h2.9v2.9h-2.9zM375.04 778.92h2.9v2.9h-2.9zM375.04 790.92h2.9v2.9h-2.9zM375.04 802.92h2.9v2.9h-2.9zM375.04 814.92h2.9v2.9h-2.9zM387.04 766.92h2.9v2.9h-2.9zM387.04 778.92h2.9v2.9h-2.9zM387.04 790.92h2.9v2.9h-2.9zM387.04 802.92h2.9v2.9h-2.9zM387.04 814.92h2.9v2.9h-2.9zM399.04 766.92h1.81v2.9h-1.81zM399.04 778.92h1.81v2.9h-1.81zM399.04 790.92h1.81v2.9h-1.81zM399.04 802.92h1.81v2.9h-1.81zM399.04 814.92h1.81v2.9h-1.81zM369.4 769.95h2.49v2.9h-2.49zM369.4 781.95h2.49v2.9h-2.49zM369.4 793.95h2.49v2.9h-2.49zM369.4 805.95h2.49v2.9h-2.49zM369.4 817.95h2.49v2.9h-2.49zM380.99 769.95h2.9v2.9h-2.9zM380.99 781.95h2.9v2.9h-2.9zM380.99 793.95h2.9v2.9h-2.9zM380.99 805.95h2.9v2.9h-2.9zM380.99 817.95h2.9v2.9h-2.9zM392.99 769.95h2.9v2.9h-2.9zM392.99 781.95h2.9v2.9h-2.9zM392.99 793.95h2.9v2.9h-2.9zM392.99 805.95h2.9v2.9h-2.9zM392.99 817.95h2.9v2.9h-2.9zM376.55 771.25h2.9v2.9h-2.9zM376.55 783.25h2.9v2.9h-2.9zM376.55 795.25h2.9v2.9h-2.9zM376.55 807.25h2.9v2.9h-2.9zM376.55 819.25h2.9v2.9h-2.9zM388.55 771.25h2.9v2.9h-2.9zM388.55 783.25h2.9v2.9h-2.9zM388.55 795.25h2.9v2.9h-2.9zM388.55 807.25h2.9v2.9h-2.9zM388.55 819.25h2.9v2.9h-2.9zM400.55 771.25h0.3v2.9h-0.3zM400.55 783.25h0.3v2.9h-0.3zM400.55 795.25h0.3v2.9h-0.3zM400.55 807.25h0.3v2.9h-0.3zM400.55 819.25h0.3v2.9h-0.3zM372.05 772.88h2.9v2.9h-2.9zM372.05 784.88h2.9v2.9h-2.9zM372.05 796.88h2.9v2.9h-2.9zM372.05 808.88h2.9v2.9h-2.9zM372.05 820.88h2.9v2.62h-2.9zM384.05 772.88h2.9v2.9h-2.9zM384.05 784.88h2.9v2.9h-2.9zM384.05 796.88h2.9v2.9h-2.9zM384.05 808.88h2.9v2.9h-2.9zM384.05 820.88h2.9v2.62h-2.9zM396.05 772.88h2.9v2.9h-2.9zM396.05 784.88h2.9v2.9h-2.9zM396.05 796.88h2.9v2.9h-2.9zM396.05 808.88h2.9v2.9h-2.9zM396.05 820.88h2.9v2.62h-2.9z" fill="#000"/><rect x="369.4" y="764.95" width="31.45" height="58.55" fill="none" stroke="#000" stroke-width="1.1"/>
<rect x="402.95" y="755.2" width="32.8" height="68.3" fill="#fff"/><path d="M406.5 755.75h1.5v0.65h-1.5zM412.5 755.75h1.5v0.65h-1.5zM418.5 755.75h1.5v0.65h-1.5zM424.5 755.75h1.5v0.65h-1.5zM430.5 755.75h1.5v0.65h-1.5zM405 756.4h1.5v1.5h-1.5zM411 756.4h1.5v1.5h-1.5zM417 756.4h1.5v1.5h-1.5zM423 756.4h1.5v1.5h-1.5zM429 756.4h1.5v1.5h-1.5zM435 756.4h0.2v1.5h-0.2zM403.5 757.9h1.5v1.5h-1.5zM409.5 757.9h1.5v1.5h-1.5zM415.5 757.9h1.5v1.5h-1.5zM421.5 757.9h1.5v1.5h-1.5zM427.5 757.9h1.5v1.5h-1.5zM433.5 757.9h1.5v1.5h-1.5zM408 759.4h1.5v1.5h-1.5zM414 759.4h1.5v1.5h-1.5zM420 759.4h1.5v1.5h-1.5zM426 759.4h1.5v1.5h-1.5zM432 759.4h1.5v1.5h-1.5zM406.5 760.9h1.5v1.5h-1.5zM412.5 760.9h1.5v1.5h-1.5zM418.5 760.9h1.5v1.5h-1.5zM424.5 760.9h1.5v1.5h-1.5zM430.5 760.9h1.5v1.5h-1.5zM405 762.4h1.5v1.5h-1.5zM411 762.4h1.5v1.5h-1.5zM417 762.4h1.5v1.5h-1.5zM423 762.4h1.5v1.5h-1.5zM429 762.4h1.5v1.5h-1.5zM435 762.4h0.2v1.5h-0.2zM403.5 763.9h1.5v1.5h-1.5zM409.5 763.9h1.5v1.5h-1.5zM415.5 763.9h1.5v1.5h-1.5zM421.5 763.9h1.5v1.5h-1.5zM427.5 763.9h1.5v1.5h-1.5zM433.5 763.9h1.5v1.5h-1.5zM408 765.4h1.5v1.5h-1.5zM414 765.4h1.5v1.5h-1.5zM420 765.4h1.5v1.5h-1.5zM426 765.4h1.5v1.5h-1.5zM432 765.4h1.5v1.5h-1.5zM406.5 766.9h1.5v1.5h-1.5zM412.5 766.9h1.5v1.5h-1.5zM418.5 766.9h1.5v1.5h-1.5zM424.5 766.9h1.5v1.5h-1.5zM430.5 766.9h1.5v1.5h-1.5zM405 768.4h1.5v1.5h-1.5zM411 768.4h1.5v1.5h-1.5zM417 768.4h1.5v1.5h-1.5zM423 768.4h1.5v1.5h-1.5zM429 768.4h1.5v1.5h-1.5zM435 768.4h0.2v1.5h-0.2zM403.5 769.9h1.5v1.5h-1.5zM409.5 769.9h1.5v1.5h-1.5zM415.5 769.9h1.5v1.5h-1.5zM421.5 769.9h1.5v1.5h-1.5zM427.5 769.9h1.5v1.5h-1.5zM433.5 769.9h1.5v1.5h-1.5zM408 771.4h1.5v1.5h-1.5zM414 771.4h1.5v1.5h-1.5zM420 771.4h1.5v1.5h-1.5zM426 771.4h1.5v1.5h-1.5zM432 771.4h1.5v1.5h-1.5zM406.5 772.9h1.5v1.5h-1.5zM412.5 772.9h1.5v1.5h-1.5zM418.5 772.9h1.5v1.5h-1.5zM424.5 772.9h1.5v1.5h-1.5zM430.5 772.9h1.5v1.5h-1.5zM405 774.4h1.5v1.5h-1.5zM411 774.4h1.5v1.5h-1.5zM417 774.4h1.5v1.5h-1.5zM423 774.4h1.5v1.5h-1.5zM429 774.4h1.5v1.5h-1.5zM435 774.4h0.2v1.5h-0.2zM403.5 775.9h1.5v1.5h-1.5zM409.5 775.9h1.5v1.5h-1.5zM415.5 775.9h1.5v1.5h-1.5zM421.5 775.9h1.5v1.5h-1.5zM427.5 775.9h1.5v1.5h-1.5zM433.5 775.9h1.5v1.5h-1.5zM408 777.4h1.5v1.5h-1.5zM414 777.4h1.5v1.5h-1.5zM420 777.4h1.5v1.5h-1.5zM426 777.4h1.5v1.5h-1.5zM432 777.4h1.5v1.5h-1.5zM406.5 778.9h1.5v1.5h-1.5zM412.5 778.9h1.5v1.5h-1.5zM418.5 778.9h1.5v1.5h-1.5zM424.5 778.9h1.5v1.5h-1.5zM430.5 778.9h1.5v1.5h-1.5zM405 780.4h1.5v1.5h-1.5zM411 780.4h1.5v1.5h-1.5zM417 780.4h1.5v1.5h-1.5zM423 780.4h1.5v1.5h-1.5zM429 780.4h1.5v1.5h-1.5zM435 780.4h0.2v1.5h-0.2zM403.5 781.9h1.5v1.5h-1.5zM409.5 781.9h1.5v1.5h-1.5zM415.5 781.9h1.5v1.5h-1.5zM421.5 781.9h1.5v1.5h-1.5zM427.5 781.9h1.5v1.5h-1.5zM433.5 781.9h1.5v1.5h-1.5zM408 783.4h1.5v1.5h-1.5zM414 783.4h1.5v1.5h-1.5zM420 783.4h1.5v1.5h-1.5zM426 783.4h1.5v1.5h-1.5zM432 783.4h1.5v1.5h-1.5zM406.5 784.9h1.5v1.5h-1.5zM412.5 784.9h1.5v1.5h-1.5zM418.5 784.9h1.5v1.5h-1.5zM424.5 784.9h1.5v1.5h-1.5zM430.5 784.9h1.5v1.5h-1.5zM405 786.4h1.5v1.5h-1.5zM411 786.4h1.5v1.5h-1.5zM417 786.4h1.5v1.5h-1.5zM423 786.4h1.5v1.5h-1.5zM429 786.4h1.5v1.5h-1.5zM435 786.4h0.2v1.5h-0.2zM403.5 787.9h1.5v1.5h-1.5zM409.5 787.9h1.5v1.5h-1.5zM415.5 787.9h1.5v1.5h-1.5zM421.5 787.9h1.5v1.5h-1.5zM427.5 787.9h1.5v1.5h-1.5zM433.5 787.9h1.5v1.5h-1.5zM408 789.4h1.5v1.5h-1.5zM414 789.4h1.5v1.5h-1.5zM420 789.4h1.5v1.5h-1.5zM426 789.4h1.5v1.5h-1.5zM432 789.4h1.5v1.5h-1.5zM406.5 790.9h1.5v1.5h-1.5zM412.5 790.9h1.5v1.5h-1.5zM418.5 790.9h1.5v1.5h-1.5zM424.5 790.9h1.5v1.5h-1.5zM430.5 790.9h1.5v1.5h-1.5zM405 792.4h1.5v1.5h-1.5zM411 792.4h1.5v1.5h-1.5zM417 792.4h1.5v1.5h-1.5zM423 792.4h1.5v1.5h-1.5zM429 792.4h1.5v1.5h-1.5zM435 792.4h0.2v1.5h-0.2zM403.5 793.9h1.5v1.5h-1.5zM409.5 793.9h1.5v1.5h-1.5zM415.5 793.9h1.5v1.5h-1.5zM421.5 793.9h1.5v1.5h-1.5zM427.5 793.9h1.5v1.5h-1.5zM433.5 793.9h1.5v1.5h-1.5zM408 795.4h1.5v1.5h-1.5zM414 795.4h1.5v1.5h-1.5zM420 795.4h1.5v1.5h-1.5zM426 795.4h1.5v1.5h-1.5zM432 795.4h1.5v1.5h-1.5zM406.5 796.9h1.5v1.5h-1.5zM412.5 796.9h1.5v1.5h-1.5zM418.5 796.9h1.5v1.5h-1.5zM424.5 796.9h1.5v1.5h-1.5zM430.5 796.9h1.5v1.5h-1.5zM405 798.4h1.5v1.5h-1.5zM411 798.4h1.5v1.5h-1.5zM417 798.4h1.5v1.5h-1.5zM423 798.4h1.5v1.5h-1.5zM429 798.4h1.5v1.5h-1.5zM435 798.4h0.2v1.5h-0.2zM403.5 799.9h1.5v1.5h-1.5zM409.5 799.9h1.5v1.5h-1.5zM415.5 799.9h1.5v1.5h-1.5zM421.5 799.9h1.5v1.5h-1.5zM427.5 799.9h1.5v1.5h-1.5zM433.5 799.9h1.5v1.5h-1.5zM408 801.4h1.5v1.5h-1.5zM414 801.4h1.5v1.5h-1.5zM420 801.4h1.5v1.5h-1.5zM426 801.4h1.5v1.5h-1.5zM432 801.4h1.5v1.5h-1.5zM406.5 802.9h1.5v1.5h-1.5zM412.5 802.9h1.5v1.5h-1.5zM418.5 802.9h1.5v1.5h-1.5zM424.5 802.9h1.5v1.5h-1.5zM430.5 802.9h1.5v1.5h-1.5zM405 804.4h1.5v1.5h-1.5zM411 804.4h1.5v1.5h-1.5zM417 804.4h1.5v1.5h-1.5zM423 804.4h1.5v1.5h-1.5zM429 804.4h1.5v1.5h-1.5zM435 804.4h0.2v1.5h-0.2zM403.5 805.9h1.5v1.5h-1.5zM409.5 805.9h1.5v1.5h-1.5zM415.5 805.9h1.5v1.5h-1.5zM421.5 805.9h1.5v1.5h-1.5zM427.5 805.9h1.5v1.5h-1.5zM433.5 805.9h1.5v1.5h-1.5zM408 807.4h1.5v1.5h-1.5zM414 807.4h1.5v1.5h-1.5zM420 807.4h1.5v1.5h-1.5zM426 807.4h1.5v1.5h-1.5zM432 807.4h1.5v1.5h-1.5zM406.5 808.9h1.5v1.5h-1.5zM412.5 808.9h1.5v1.5h-1.5zM418.5 808.9h1.5v1.5h-1.5zM424.5 808.9h1.5v1.5h-1.5zM430.5 808.9h1.5v1.5h-1.5zM405 810.4h1.5v1.5h-1.5zM411 810.4h1.5v1.5h-1.5zM417 810.4h1.5v1.5h-1.5zM423 810.4h1.5v1.5h-1.5zM429 810.4h1.5v1.5h-1.5zM435 810.4h0.2v1.5h-0.2zM403.5 811.9h1.5v1.5h-1.5zM409.5 811.9h1.5v1.5h-1.5zM415.5 811.9h1.5v1.5h-1.5zM421.5 811.9h1.5v1.5h-1.5zM427.5 811.9h1.5v1.5h-1.5zM433.5 811.9h1.5v1.5h-1.5zM408 813.4h1.5v1.5h-1.5zM414 813.4h1.5v1.5h-1.5zM420 813.4h1.5v1.5h-1.5zM426 813.4h1.5v1.5h-1.5zM432 813.4h1.5v1.5h-1.5zM406.5 814.9h1.5v1.5h-1.5zM412.5 814.9h1.5v1.5h-1.5zM418.5 814.9h1.5v1.5h-1.5zM424.5 814.9h1.5v1.5h-1.5zM430.5 814.9h1.5v1.5h-1.5zM405 816.4h1.5v1.5h-1.5zM411 816.4h1.5v1.5h-1.5zM417 816.4h1.5v1.5h-1.5zM423 816.4h1.5v1.5h-1.5zM429 816.4h1.5v1.5h-1.5zM435 816.4h0.2v1.5h-0.2zM403.5 817.9h1.5v1.5h-1.5zM409.5 817.9h1.5v1.5h-1.5zM415.5 817.9h1.5v1.5h-1.5zM421.5 817.9h1.5v1.5h-1.5zM427.5 817.9h1.5v1.5h-1.5zM433.5 817.9h1.5v1.5h-1.5zM408 819.4h1.5v1.5h-1.5zM414 819.4h1.5v1.5h-1.5zM420 819.4h1.5v1.5h-1.5zM426 819.4h1.5v1.5h-1.5zM432 819.4h1.5v1.5h-1.5zM406.5 820.9h1.5v1.5h-1.5zM412.5 820.9h1.5v1.5h-1.5zM418.5 820.9h1.5v1.5h-1.5zM424.5 820.9h1.5v1.5h-1.5zM430.5 820.9h1.5v1.5h-1.5zM405 822.4h1.5v1.1h-1.5zM411 822.4h1.5v1.1h-1.5zM417 822.4h1.5v1.1h-1.5zM423 822.4h1.5v1.1h-1.5zM429 822.4h1.5v1.1h-1.5zM435 822.4h0.2v1.1h-0.2z" fill="#000"/><rect x="403.5" y="755.75" width="31.7" height="67.75" fill="none" stroke="#000" stroke-width="1.1"/>
<rect x="476.1" y="805.3" width="32.9" height="18.2" fill="#000"/>
<rect x="510.2" y="734.9" width="32.5" height="88.6" fill="#fff"/><path d="M510.75 739.95h2.19v2.9h-2.19zM510.75 751.95h2.19v2.9h-2.19zM510.75 763.95h2.19v2.9h-2.19zM510.75 775.95h2.19v2.9h-2.19zM510.75 787.95h2.19v2.9h-2.19zM510.75 799.95h2.19v2.9h-2.19zM510.75 811.95h2.19v2.9h-2.19zM522.04 739.95h2.9v2.9h-2.9zM522.04 751.95h2.9v2.9h-2.9zM522.04 763.95h2.9v2.9h-2.9zM522.04 775.95h2.9v2.9h-2.9zM522.04 787.95h2.9v2.9h-2.9zM522.04 799.95h2.9v2.9h-2.9zM522.04 811.95h2.9v2.9h-2.9zM534.04 739.95h2.9v2.9h-2.9zM534.04 751.95h2.9v2.9h-2.9zM534.04 763.95h2.9v2.9h-2.9zM534.04 775.95h2.9v2.9h-2.9zM534.04 787.95h2.9v2.9h-2.9zM534.04 799.95h2.9v2.9h-2.9zM534.04 811.95h2.9v2.9h-2.9zM514.48 741.43h2.9v2.9h-2.9zM514.48 753.43h2.9v2.9h-2.9zM514.48 765.43h2.9v2.9h-2.9zM514.48 777.43h2.9v2.9h-2.9zM514.48 789.43h2.9v2.9h-2.9zM514.48 801.43h2.9v2.9h-2.9zM514.48 813.43h2.9v2.9h-2.9zM526.48 741.43h2.9v2.9h-2.9zM526.48 753.43h2.9v2.9h-2.9zM526.48 765.43h2.9v2.9h-2.9zM526.48 777.43h2.9v2.9h-2.9zM526.48 789.43h2.9v2.9h-2.9zM526.48 801.43h2.9v2.9h-2.9zM526.48 813.43h2.9v2.9h-2.9zM538.48 741.43h2.9v2.9h-2.9zM538.48 753.43h2.9v2.9h-2.9zM538.48 765.43h2.9v2.9h-2.9zM538.48 777.43h2.9v2.9h-2.9zM538.48 789.43h2.9v2.9h-2.9zM538.48 801.43h2.9v2.9h-2.9zM538.48 813.43h2.9v2.9h-2.9zM519.04 742.92h2.9v2.9h-2.9zM519.04 754.92h2.9v2.9h-2.9zM519.04 766.92h2.9v2.9h-2.9zM519.04 778.92h2.9v2.9h-2.9zM519.04 790.92h2.9v2.9h-2.9zM519.04 802.92h2.9v2.9h-2.9zM519.04 814.92h2.9v2.9h-2.9zM531.04 742.92h2.9v2.9h-2.9zM531.04 754.92h2.9v2.9h-2.9zM531.04 766.92h2.9v2.9h-2.9zM531.04 778.92h2.9v2.9h-2.9zM531.04 790.92h2.9v2.9h-2.9zM531.04 802.92h2.9v2.9h-2.9zM531.04 814.92h2.9v2.9h-2.9zM512.99 735.45h2.9v1.4h-2.9zM512.99 745.95h2.9v2.9h-2.9zM512.99 757.95h2.9v2.9h-2.9zM512.99 769.95h2.9v2.9h-2.9zM512.99 781.95h2.9v2.9h-2.9zM512.99 793.95h2.9v2.9h-2.9zM512.99 805.95h2.9v2.9h-2.9zM512.99 817.95h2.9v2.9h-2.9zM524.99 735.45h2.9v1.4h-2.9zM524.99 745.95h2.9v2.9h-2.9zM524.99 757.95h2.9v2.9h-2.9zM524.99 769.95h2.9v2.9h-2.9zM524.99 781.95h2.9v2.9h-2.9zM524.99 793.95h2.9v2.9h-2.9zM524.99 805.95h2.9v2.9h-2.9zM524.99 817.95h2.9v2.9h-2.9zM536.99 735.45h2.9v1.4h-2.9zM536.99 745.95h2.9v2.9h-2.9zM536.99 757.95h2.9v2.9h-2.9zM536.99 769.95h2.9v2.9h-2.9zM536.99 781.95h2.9v2.9h-2.9zM536.99 793.95h2.9v2.9h-2.9zM536.99 805.95h2.9v2.9h-2.9zM536.99 817.95h2.9v2.9h-2.9zM510.75 735.45h0.7v2.7h-0.7zM510.75 747.25h0.7v2.9h-0.7zM510.75 759.25h0.7v2.9h-0.7zM510.75 771.25h0.7v2.9h-0.7zM510.75 783.25h0.7v2.9h-0.7zM510.75 795.25h0.7v2.9h-0.7zM510.75 807.25h0.7v2.9h-0.7zM510.75 819.25h0.7v2.9h-0.7zM520.55 735.45h2.9v2.7h-2.9zM520.55 747.25h2.9v2.9h-2.9zM520.55 759.25h2.9v2.9h-2.9zM520.55 771.25h2.9v2.9h-2.9zM520.55 783.25h2.9v2.9h-2.9zM520.55 795.25h2.9v2.9h-2.9zM520.55 807.25h2.9v2.9h-2.9zM520.55 819.25h2.9v2.9h-2.9zM532.55 735.45h2.9v2.7h-2.9zM532.55 747.25h2.9v2.9h-2.9zM532.55 759.25h2.9v2.9h-2.9zM532.55 771.25h2.9v2.9h-2.9zM532.55 783.25h2.9v2.9h-2.9zM532.55 795.25h2.9v2.9h-2.9zM532.55 807.25h2.9v2.9h-2.9zM532.55 819.25h2.9v2.9h-2.9zM516.05 736.88h2.9v2.9h-2.9zM516.05 748.88h2.9v2.9h-2.9zM516.05 760.88h2.9v2.9h-2.9zM516.05 772.88h2.9v2.9h-2.9zM516.05 784.88h2.9v2.9h-2.9zM516.05 796.88h2.9v2.9h-2.9zM516.05 808.88h2.9v2.9h-2.9zM516.05 820.88h2.9v2.62h-2.9zM528.05 736.88h2.9v2.9h-2.9zM528.05 748.88h2.9v2.9h-2.9zM528.05 760.88h2.9v2.9h-2.9zM528.05 772.88h2.9v2.9h-2.9zM528.05 784.88h2.9v2.9h-2.9zM528.05 796.88h2.9v2.9h-2.9zM528.05 808.88h2.9v2.9h-2.9zM528.05 820.88h2.9v2.62h-2.9zM540.05 736.88h2.1v2.9h-2.1zM540.05 748.88h2.1v2.9h-2.1zM540.05 760.88h2.1v2.9h-2.1zM540.05 772.88h2.1v2.9h-2.1zM540.05 784.88h2.1v2.9h-2.1zM540.05 796.88h2.1v2.9h-2.1zM540.05 808.88h2.1v2.9h-2.1zM540.05 820.88h2.1v2.62h-2.1z" fill="#000"/><rect x="510.75" y="735.45" width="31.4" height="88.05" fill="none" stroke="#000" stroke-width="1.1"/>
<rect x="543.95" y="726" width="32.95" height="97.5" fill="#fff"/><path d="M549 726.55h1.5v1.35h-1.5zM555 726.55h1.5v1.35h-1.5zM561 726.55h1.5v1.35h-1.5zM567 726.55h1.5v1.35h-1.5zM573 726.55h1.5v1.35h-1.5zM547.5 727.9h1.5v1.5h-1.5zM553.5 727.9h1.5v1.5h-1.5zM559.5 727.9h1.5v1.5h-1.5zM565.5 727.9h1.5v1.5h-1.5zM571.5 727.9h1.5v1.5h-1.5zM546 729.4h1.5v1.5h-1.5zM552 729.4h1.5v1.5h-1.5zM558 729.4h1.5v1.5h-1.5zM564 729.4h1.5v1.5h-1.5zM570 729.4h1.5v1.5h-1.5zM576 729.4h0.35v1.5h-0.35zM544.5 730.9h1.5v1.5h-1.5zM550.5 730.9h1.5v1.5h-1.5zM556.5 730.9h1.5v1.5h-1.5zM562.5 730.9h1.5v1.5h-1.5zM568.5 730.9h1.5v1.5h-1.5zM574.5 730.9h1.5v1.5h-1.5zM549 732.4h1.5v1.5h-1.5zM555 732.4h1.5v1.5h-1.5zM561 732.4h1.5v1.5h-1.5zM567 732.4h1.5v1.5h-1.5zM573 732.4h1.5v1.5h-1.5zM547.5 733.9h1.5v1.5h-1.5zM553.5 733.9h1.5v1.5h-1.5zM559.5 733.9h1.5v1.5h-1.5zM565.5 733.9h1.5v1.5h-1.5zM571.5 733.9h1.5v1.5h-1.5zM546 735.4h1.5v1.5h-1.5zM552 735.4h1.5v1.5h-1.5zM558 735.4h1.5v1.5h-1.5zM564 735.4h1.5v1.5h-1.5zM570 735.4h1.5v1.5h-1.5zM576 735.4h0.35v1.5h-0.35zM544.5 736.9h1.5v1.5h-1.5zM550.5 736.9h1.5v1.5h-1.5zM556.5 736.9h1.5v1.5h-1.5zM562.5 736.9h1.5v1.5h-1.5zM568.5 736.9h1.5v1.5h-1.5zM574.5 736.9h1.5v1.5h-1.5zM549 738.4h1.5v1.5h-1.5zM555 738.4h1.5v1.5h-1.5zM561 738.4h1.5v1.5h-1.5zM567 738.4h1.5v1.5h-1.5zM573 738.4h1.5v1.5h-1.5zM547.5 739.9h1.5v1.5h-1.5zM553.5 739.9h1.5v1.5h-1.5zM559.5 739.9h1.5v1.5h-1.5zM565.5 739.9h1.5v1.5h-1.5zM571.5 739.9h1.5v1.5h-1.5zM546 741.4h1.5v1.5h-1.5zM552 741.4h1.5v1.5h-1.5zM558 741.4h1.5v1.5h-1.5zM564 741.4h1.5v1.5h-1.5zM570 741.4h1.5v1.5h-1.5zM576 741.4h0.35v1.5h-0.35zM544.5 742.9h1.5v1.5h-1.5zM550.5 742.9h1.5v1.5h-1.5zM556.5 742.9h1.5v1.5h-1.5zM562.5 742.9h1.5v1.5h-1.5zM568.5 742.9h1.5v1.5h-1.5zM574.5 742.9h1.5v1.5h-1.5zM549 744.4h1.5v1.5h-1.5zM555 744.4h1.5v1.5h-1.5zM561 744.4h1.5v1.5h-1.5zM567 744.4h1.5v1.5h-1.5zM573 744.4h1.5v1.5h-1.5zM547.5 745.9h1.5v1.5h-1.5zM553.5 745.9h1.5v1.5h-1.5zM559.5 745.9h1.5v1.5h-1.5zM565.5 745.9h1.5v1.5h-1.5zM571.5 745.9h1.5v1.5h-1.5zM546 747.4h1.5v1.5h-1.5zM552 747.4h1.5v1.5h-1.5zM558 747.4h1.5v1.5h-1.5zM564 747.4h1.5v1.5h-1.5zM570 747.4h1.5v1.5h-1.5zM576 747.4h0.35v1.5h-0.35zM544.5 748.9h1.5v1.5h-1.5zM550.5 748.9h1.5v1.5h-1.5zM556.5 748.9h1.5v1.5h-1.5zM562.5 748.9h1.5v1.5h-1.5zM568.5 748.9h1.5v1.5h-1.5zM574.5 748.9h1.5v1.5h-1.5zM549 750.4h1.5v1.5h-1.5zM555 750.4h1.5v1.5h-1.5zM561 750.4h1.5v1.5h-1.5zM567 750.4h1.5v1.5h-1.5zM573 750.4h1.5v1.5h-1.5zM547.5 751.9h1.5v1.5h-1.5zM553.5 751.9h1.5v1.5h-1.5zM559.5 751.9h1.5v1.5h-1.5zM565.5 751.9h1.5v1.5h-1.5zM571.5 751.9h1.5v1.5h-1.5zM546 753.4h1.5v1.5h-1.5zM552 753.4h1.5v1.5h-1.5zM558 753.4h1.5v1.5h-1.5zM564 753.4h1.5v1.5h-1.5zM570 753.4h1.5v1.5h-1.5zM576 753.4h0.35v1.5h-0.35zM544.5 754.9h1.5v1.5h-1.5zM550.5 754.9h1.5v1.5h-1.5zM556.5 754.9h1.5v1.5h-1.5zM562.5 754.9h1.5v1.5h-1.5zM568.5 754.9h1.5v1.5h-1.5zM574.5 754.9h1.5v1.5h-1.5zM549 756.4h1.5v1.5h-1.5zM555 756.4h1.5v1.5h-1.5zM561 756.4h1.5v1.5h-1.5zM567 756.4h1.5v1.5h-1.5zM573 756.4h1.5v1.5h-1.5zM547.5 757.9h1.5v1.5h-1.5zM553.5 757.9h1.5v1.5h-1.5zM559.5 757.9h1.5v1.5h-1.5zM565.5 757.9h1.5v1.5h-1.5zM571.5 757.9h1.5v1.5h-1.5zM546 759.4h1.5v1.5h-1.5zM552 759.4h1.5v1.5h-1.5zM558 759.4h1.5v1.5h-1.5zM564 759.4h1.5v1.5h-1.5zM570 759.4h1.5v1.5h-1.5zM576 759.4h0.35v1.5h-0.35zM544.5 760.9h1.5v1.5h-1.5zM550.5 760.9h1.5v1.5h-1.5zM556.5 760.9h1.5v1.5h-1.5zM562.5 760.9h1.5v1.5h-1.5zM568.5 760.9h1.5v1.5h-1.5zM574.5 760.9h1.5v1.5h-1.5zM549 762.4h1.5v1.5h-1.5zM555 762.4h1.5v1.5h-1.5zM561 762.4h1.5v1.5h-1.5zM567 762.4h1.5v1.5h-1.5zM573 762.4h1.5v1.5h-1.5zM547.5 763.9h1.5v1.5h-1.5zM553.5 763.9h1.5v1.5h-1.5zM559.5 763.9h1.5v1.5h-1.5zM565.5 763.9h1.5v1.5h-1.5zM571.5 763.9h1.5v1.5h-1.5zM546 765.4h1.5v1.5h-1.5zM552 765.4h1.5v1.5h-1.5zM558 765.4h1.5v1.5h-1.5zM564 765.4h1.5v1.5h-1.5zM570 765.4h1.5v1.5h-1.5zM576 765.4h0.35v1.5h-0.35zM544.5 766.9h1.5v1.5h-1.5zM550.5 766.9h1.5v1.5h-1.5zM556.5 766.9h1.5v1.5h-1.5zM562.5 766.9h1.5v1.5h-1.5zM568.5 766.9h1.5v1.5h-1.5zM574.5 766.9h1.5v1.5h-1.5zM549 768.4h1.5v1.5h-1.5zM555 768.4h1.5v1.5h-1.5zM561 768.4h1.5v1.5h-1.5zM567 768.4h1.5v1.5h-1.5zM573 768.4h1.5v1.5h-1.5zM547.5 769.9h1.5v1.5h-1.5zM553.5 769.9h1.5v1.5h-1.5zM559.5 769.9h1.5v1.5h-1.5zM565.5 769.9h1.5v1.5h-1.5zM571.5 769.9h1.5v1.5h-1.5zM546 771.4h1.5v1.5h-1.5zM552 771.4h1.5v1.5h-1.5zM558 771.4h1.5v1.5h-1.5zM564 771.4h1.5v1.5h-1.5zM570 771.4h1.5v1.5h-1.5zM576 771.4h0.35v1.5h-0.35zM544.5 772.9h1.5v1.5h-1.5zM550.5 772.9h1.5v1.5h-1.5zM556.5 772.9h1.5v1.5h-1.5zM562.5 772.9h1.5v1.5h-1.5zM568.5 772.9h1.5v1.5h-1.5zM574.5 772.9h1.5v1.5h-1.5zM549 774.4h1.5v1.5h-1.5zM555 774.4h1.5v1.5h-1.5zM561 774.4h1.5v1.5h-1.5zM567 774.4h1.5v1.5h-1.5zM573 774.4h1.5v1.5h-1.5zM547.5 775.9h1.5v1.5h-1.5zM553.5 775.9h1.5v1.5h-1.5zM559.5 775.9h1.5v1.5h-1.5zM565.5 775.9h1.5v1.5h-1.5zM571.5 775.9h1.5v1.5h-1.5zM546 777.4h1.5v1.5h-1.5zM552 777.4h1.5v1.5h-1.5zM558 777.4h1.5v1.5h-1.5zM564 777.4h1.5v1.5h-1.5zM570 777.4h1.5v1.5h-1.5zM576 777.4h0.35v1.5h-0.35zM544.5 778.9h1.5v1.5h-1.5zM550.5 778.9h1.5v1.5h-1.5zM556.5 778.9h1.5v1.5h-1.5zM562.5 778.9h1.5v1.5h-1.5zM568.5 778.9h1.5v1.5h-1.5zM574.5 778.9h1.5v1.5h-1.5zM549 780.4h1.5v1.5h-1.5zM555 780.4h1.5v1.5h-1.5zM561 780.4h1.5v1.5h-1.5zM567 780.4h1.5v1.5h-1.5zM573 780.4h1.5v1.5h-1.5zM547.5 781.9h1.5v1.5h-1.5zM553.5 781.9h1.5v1.5h-1.5zM559.5 781.9h1.5v1.5h-1.5zM565.5 781.9h1.5v1.5h-1.5zM571.5 781.9h1.5v1.5h-1.5zM546 783.4h1.5v1.5h-1.5zM552 783.4h1.5v1.5h-1.5zM558 783.4h1.5v1.5h-1.5zM564 783.4h1.5v1.5h-1.5zM570 783.4h1.5v1.5h-1.5zM576 783.4h0.35v1.5h-0.35zM544.5 784.9h1.5v1.5h-1.5zM550.5 784.9h1.5v1.5h-1.5zM556.5 784.9h1.5v1.5h-1.5zM562.5 784.9h1.5v1.5h-1.5zM568.5 784.9h1.5v1.5h-1.5zM574.5 784.9h1.5v1.5h-1.5zM549 786.4h1.5v1.5h-1.5zM555 786.4h1.5v1.5h-1.5zM561 786.4h1.5v1.5h-1.5zM567 786.4h1.5v1.5h-1.5zM573 786.4h1.5v1.5h-1.5zM547.5 787.9h1.5v1.5h-1.5zM553.5 787.9h1.5v1.5h-1.5zM559.5 787.9h1.5v1.5h-1.5zM565.5 787.9h1.5v1.5h-1.5zM571.5 787.9h1.5v1.5h-1.5zM546 789.4h1.5v1.5h-1.5zM552 789.4h1.5v1.5h-1.5zM558 789.4h1.5v1.5h-1.5zM564 789.4h1.5v1.5h-1.5zM570 789.4h1.5v1.5h-1.5zM576 789.4h0.35v1.5h-0.35zM544.5 790.9h1.5v1.5h-1.5zM550.5 790.9h1.5v1.5h-1.5zM556.5 790.9h1.5v1.5h-1.5zM562.5 790.9h1.5v1.5h-1.5zM568.5 790.9h1.5v1.5h-1.5zM574.5 790.9h1.5v1.5h-1.5zM549 792.4h1.5v1.5h-1.5zM555 792.4h1.5v1.5h-1.5zM561 792.4h1.5v1.5h-1.5zM567 792.4h1.5v1.5h-1.5zM573 792.4h1.5v1.5h-1.5zM547.5 793.9h1.5v1.5h-1.5zM553.5 793.9h1.5v1.5h-1.5zM559.5 793.9h1.5v1.5h-1.5zM565.5 793.9h1.5v1.5h-1.5zM571.5 793.9h1.5v1.5h-1.5zM546 795.4h1.5v1.5h-1.5zM552 795.4h1.5v1.5h-1.5zM558 795.4h1.5v1.5h-1.5zM564 795.4h1.5v1.5h-1.5zM570 795.4h1.5v1.5h-1.5zM576 795.4h0.35v1.5h-0.35zM544.5 796.9h1.5v1.5h-1.5zM550.5 796.9h1.5v1.5h-1.5zM556.5 796.9h1.5v1.5h-1.5zM562.5 796.9h1.5v1.5h-1.5zM568.5 796.9h1.5v1.5h-1.5zM574.5 796.9h1.5v1.5h-1.5zM549 798.4h1.5v1.5h-1.5zM555 798.4h1.5v1.5h-1.5zM561 798.4h1.5v1.5h-1.5zM567 798.4h1.5v1.5h-1.5zM573 798.4h1.5v1.5h-1.5zM547.5 799.9h1.5v1.5h-1.5zM553.5 799.9h1.5v1.5h-1.5zM559.5 799.9h1.5v1.5h-1.5zM565.5 799.9h1.5v1.5h-1.5zM571.5 799.9h1.5v1.5h-1.5zM546 801.4h1.5v1.5h-1.5zM552 801.4h1.5v1.5h-1.5zM558 801.4h1.5v1.5h-1.5zM564 801.4h1.5v1.5h-1.5zM570 801.4h1.5v1.5h-1.5zM576 801.4h0.35v1.5h-0.35zM544.5 802.9h1.5v1.5h-1.5zM550.5 802.9h1.5v1.5h-1.5zM556.5 802.9h1.5v1.5h-1.5zM562.5 802.9h1.5v1.5h-1.5zM568.5 802.9h1.5v1.5h-1.5zM574.5 802.9h1.5v1.5h-1.5zM549 804.4h1.5v1.5h-1.5zM555 804.4h1.5v1.5h-1.5zM561 804.4h1.5v1.5h-1.5zM567 804.4h1.5v1.5h-1.5zM573 804.4h1.5v1.5h-1.5zM547.5 805.9h1.5v1.5h-1.5zM553.5 805.9h1.5v1.5h-1.5zM559.5 805.9h1.5v1.5h-1.5zM565.5 805.9h1.5v1.5h-1.5zM571.5 805.9h1.5v1.5h-1.5zM546 807.4h1.5v1.5h-1.5zM552 807.4h1.5v1.5h-1.5zM558 807.4h1.5v1.5h-1.5zM564 807.4h1.5v1.5h-1.5zM570 807.4h1.5v1.5h-1.5zM576 807.4h0.35v1.5h-0.35zM544.5 808.9h1.5v1.5h-1.5zM550.5 808.9h1.5v1.5h-1.5zM556.5 808.9h1.5v1.5h-1.5zM562.5 808.9h1.5v1.5h-1.5zM568.5 808.9h1.5v1.5h-1.5zM574.5 808.9h1.5v1.5h-1.5zM549 810.4h1.5v1.5h-1.5zM555 810.4h1.5v1.5h-1.5zM561 810.4h1.5v1.5h-1.5zM567 810.4h1.5v1.5h-1.5zM573 810.4h1.5v1.5h-1.5zM547.5 811.9h1.5v1.5h-1.5zM553.5 811.9h1.5v1.5h-1.5zM559.5 811.9h1.5v1.5h-1.5zM565.5 811.9h1.5v1.5h-1.5zM571.5 811.9h1.5v1.5h-1.5zM546 813.4h1.5v1.5h-1.5zM552 813.4h1.5v1.5h-1.5zM558 813.4h1.5v1.5h-1.5zM564 813.4h1.5v1.5h-1.5zM570 813.4h1.5v1.5h-1.5zM576 813.4h0.35v1.5h-0.35zM544.5 814.9h1.5v1.5h-1.5zM550.5 814.9h1.5v1.5h-1.5zM556.5 814.9h1.5v1.5h-1.5zM562.5 814.9h1.5v1.5h-1.5zM568.5 814.9h1.5v1.5h-1.5zM574.5 814.9h1.5v1.5h-1.5zM549 816.4h1.5v1.5h-1.5zM555 816.4h1.5v1.5h-1.5zM561 816.4h1.5v1.5h-1.5zM567 816.4h1.5v1.5h-1.5zM573 816.4h1.5v1.5h-1.5zM547.5 817.9h1.5v1.5h-1.5zM553.5 817.9h1.5v1.5h-1.5zM559.5 817.9h1.5v1.5h-1.5zM565.5 817.9h1.5v1.5h-1.5zM571.5 817.9h1.5v1.5h-1.5zM546 819.4h1.5v1.5h-1.5zM552 819.4h1.5v1.5h-1.5zM558 819.4h1.5v1.5h-1.5zM564 819.4h1.5v1.5h-1.5zM570 819.4h1.5v1.5h-1.5zM576 819.4h0.35v1.5h-0.35zM544.5 820.9h1.5v1.5h-1.5zM550.5 820.9h1.5v1.5h-1.5zM556.5 820.9h1.5v1.5h-1.5zM562.5 820.9h1.5v1.5h-1.5zM568.5 820.9h1.5v1.5h-1.5zM574.5 820.9h1.5v1.5h-1.5zM549 822.4h1.5v1.1h-1.5zM555 822.4h1.5v1.1h-1.5zM561 822.4h1.5v1.1h-1.5zM567 822.4h1.5v1.1h-1.5zM573 822.4h1.5v1.1h-1.5z" fill="#000"/><rect x="544.5" y="726.55" width="31.85" height="96.95" fill="none" stroke="#000" stroke-width="1.1"/>
<rect x="617.4" y="780.5" width="32.5" height="43" fill="#000"/>
<rect x="651" y="770.5" width="33" height="53" fill="#fff"/><path d="M654.04 775.95h2.9v2.9h-2.9zM654.04 787.95h2.9v2.9h-2.9zM654.04 799.95h2.9v2.9h-2.9zM654.04 811.95h2.9v2.9h-2.9zM666.04 775.95h2.9v2.9h-2.9zM666.04 787.95h2.9v2.9h-2.9zM666.04 799.95h2.9v2.9h-2.9zM666.04 811.95h2.9v2.9h-2.9zM678.04 775.95h2.9v2.9h-2.9zM678.04 787.95h2.9v2.9h-2.9zM678.04 799.95h2.9v2.9h-2.9zM678.04 811.95h2.9v2.9h-2.9zM658.48 777.43h2.9v2.9h-2.9zM658.48 789.43h2.9v2.9h-2.9zM658.48 801.43h2.9v2.9h-2.9zM658.48 813.43h2.9v2.9h-2.9zM670.48 777.43h2.9v2.9h-2.9zM670.48 789.43h2.9v2.9h-2.9zM670.48 801.43h2.9v2.9h-2.9zM670.48 813.43h2.9v2.9h-2.9zM682.48 777.43h0.97v2.9h-0.97zM682.48 789.43h0.97v2.9h-0.97zM682.48 801.43h0.97v2.9h-0.97zM682.48 813.43h0.97v2.9h-0.97zM651.55 778.92h2.39v2.9h-2.39zM651.55 790.92h2.39v2.9h-2.39zM651.55 802.92h2.39v2.9h-2.39zM651.55 814.92h2.39v2.9h-2.39zM663.04 778.92h2.9v2.9h-2.9zM663.04 790.92h2.9v2.9h-2.9zM663.04 802.92h2.9v2.9h-2.9zM663.04 814.92h2.9v2.9h-2.9zM675.04 778.92h2.9v2.9h-2.9zM675.04 790.92h2.9v2.9h-2.9zM675.04 802.92h2.9v2.9h-2.9zM675.04 814.92h2.9v2.9h-2.9zM656.99 771.05h2.9v1.8h-2.9zM656.99 781.95h2.9v2.9h-2.9zM656.99 793.95h2.9v2.9h-2.9zM656.99 805.95h2.9v2.9h-2.9zM656.99 817.95h2.9v2.9h-2.9zM668.99 771.05h2.9v1.8h-2.9zM668.99 781.95h2.9v2.9h-2.9zM668.99 793.95h2.9v2.9h-2.9zM668.99 805.95h2.9v2.9h-2.9zM668.99 817.95h2.9v2.9h-2.9zM680.99 771.05h2.46v1.8h-2.46zM680.99 781.95h2.46v2.9h-2.46zM680.99 793.95h2.46v2.9h-2.46zM680.99 805.95h2.46v2.9h-2.46zM680.99 817.95h2.46v2.9h-2.46zM652.55 771.25h2.9v2.9h-2.9zM652.55 783.25h2.9v2.9h-2.9zM652.55 795.25h2.9v2.9h-2.9zM652.55 807.25h2.9v2.9h-2.9zM652.55 819.25h2.9v2.9h-2.9zM664.55 771.25h2.9v2.9h-2.9zM664.55 783.25h2.9v2.9h-2.9zM664.55 795.25h2.9v2.9h-2.9zM664.55 807.25h2.9v2.9h-2.9zM664.55 819.25h2.9v2.9h-2.9zM676.55 771.25h2.9v2.9h-2.9zM676.55 783.25h2.9v2.9h-2.9zM676.55 795.25h2.9v2.9h-2.9zM676.55 807.25h2.9v2.9h-2.9zM676.55 819.25h2.9v2.9h-2.9zM660.05 772.88h2.9v2.9h-2.9zM660.05 784.88h2.9v2.9h-2.9zM660.05 796.88h2.9v2.9h-2.9zM660.05 808.88h2.9v2.9h-2.9zM660.05 820.88h2.9v2.62h-2.9zM672.05 772.88h2.9v2.9h-2.9zM672.05 784.88h2.9v2.9h-2.9zM672.05 796.88h2.9v2.9h-2.9zM672.05 808.88h2.9v2.9h-2.9zM672.05 820.88h2.9v2.62h-2.9z" fill="#000"/><rect x="651.55" y="771.05" width="31.9" height="52.45" fill="none" stroke="#000" stroke-width="1.1"/>
<rect x="685.1" y="752.6" width="33.65" height="70.9" fill="#fff"/><path d="M685.65 753.15h1.35v0.25h-1.35zM691.5 753.15h1.5v0.25h-1.5zM697.5 753.15h1.5v0.25h-1.5zM703.5 753.15h1.5v0.25h-1.5zM709.5 753.15h1.5v0.25h-1.5zM715.5 753.15h1.5v0.25h-1.5zM690 753.4h1.5v1.5h-1.5zM696 753.4h1.5v1.5h-1.5zM702 753.4h1.5v1.5h-1.5zM708 753.4h1.5v1.5h-1.5zM714 753.4h1.5v1.5h-1.5zM688.5 754.9h1.5v1.5h-1.5zM694.5 754.9h1.5v1.5h-1.5zM700.5 754.9h1.5v1.5h-1.5zM706.5 754.9h1.5v1.5h-1.5zM712.5 754.9h1.5v1.5h-1.5zM687 756.4h1.5v1.5h-1.5zM693 756.4h1.5v1.5h-1.5zM699 756.4h1.5v1.5h-1.5zM705 756.4h1.5v1.5h-1.5zM711 756.4h1.5v1.5h-1.5zM717 756.4h1.2v1.5h-1.2zM685.65 757.9h1.35v1.5h-1.35zM691.5 757.9h1.5v1.5h-1.5zM697.5 757.9h1.5v1.5h-1.5zM703.5 757.9h1.5v1.5h-1.5zM709.5 757.9h1.5v1.5h-1.5zM715.5 757.9h1.5v1.5h-1.5zM690 759.4h1.5v1.5h-1.5zM696 759.4h1.5v1.5h-1.5zM702 759.4h1.5v1.5h-1.5zM708 759.4h1.5v1.5h-1.5zM714 759.4h1.5v1.5h-1.5zM688.5 760.9h1.5v1.5h-1.5zM694.5 760.9h1.5v1.5h-1.5zM700.5 760.9h1.5v1.5h-1.5zM706.5 760.9h1.5v1.5h-1.5zM712.5 760.9h1.5v1.5h-1.5zM687 762.4h1.5v1.5h-1.5zM693 762.4h1.5v1.5h-1.5zM699 762.4h1.5v1.5h-1.5zM705 762.4h1.5v1.5h-1.5zM711 762.4h1.5v1.5h-1.5zM717 762.4h1.2v1.5h-1.2zM685.65 763.9h1.35v1.5h-1.35zM691.5 763.9h1.5v1.5h-1.5zM697.5 763.9h1.5v1.5h-1.5zM703.5 763.9h1.5v1.5h-1.5zM709.5 763.9h1.5v1.5h-1.5zM715.5 763.9h1.5v1.5h-1.5zM690 765.4h1.5v1.5h-1.5zM696 765.4h1.5v1.5h-1.5zM702 765.4h1.5v1.5h-1.5zM708 765.4h1.5v1.5h-1.5zM714 765.4h1.5v1.5h-1.5zM688.5 766.9h1.5v1.5h-1.5zM694.5 766.9h1.5v1.5h-1.5zM700.5 766.9h1.5v1.5h-1.5zM706.5 766.9h1.5v1.5h-1.5zM712.5 766.9h1.5v1.5h-1.5zM687 768.4h1.5v1.5h-1.5zM693 768.4h1.5v1.5h-1.5zM699 768.4h1.5v1.5h-1.5zM705 768.4h1.5v1.5h-1.5zM711 768.4h1.5v1.5h-1.5zM717 768.4h1.2v1.5h-1.2zM685.65 769.9h1.35v1.5h-1.35zM691.5 769.9h1.5v1.5h-1.5zM697.5 769.9h1.5v1.5h-1.5zM703.5 769.9h1.5v1.5h-1.5zM709.5 769.9h1.5v1.5h-1.5zM715.5 769.9h1.5v1.5h-1.5zM690 771.4h1.5v1.5h-1.5zM696 771.4h1.5v1.5h-1.5zM702 771.4h1.5v1.5h-1.5zM708 771.4h1.5v1.5h-1.5zM714 771.4h1.5v1.5h-1.5zM688.5 772.9h1.5v1.5h-1.5zM694.5 772.9h1.5v1.5h-1.5zM700.5 772.9h1.5v1.5h-1.5zM706.5 772.9h1.5v1.5h-1.5zM712.5 772.9h1.5v1.5h-1.5zM687 774.4h1.5v1.5h-1.5zM693 774.4h1.5v1.5h-1.5zM699 774.4h1.5v1.5h-1.5zM705 774.4h1.5v1.5h-1.5zM711 774.4h1.5v1.5h-1.5zM717 774.4h1.2v1.5h-1.2zM685.65 775.9h1.35v1.5h-1.35zM691.5 775.9h1.5v1.5h-1.5zM697.5 775.9h1.5v1.5h-1.5zM703.5 775.9h1.5v1.5h-1.5zM709.5 775.9h1.5v1.5h-1.5zM715.5 775.9h1.5v1.5h-1.5zM690 777.4h1.5v1.5h-1.5zM696 777.4h1.5v1.5h-1.5zM702 777.4h1.5v1.5h-1.5zM708 777.4h1.5v1.5h-1.5zM714 777.4h1.5v1.5h-1.5zM688.5 778.9h1.5v1.5h-1.5zM694.5 778.9h1.5v1.5h-1.5zM700.5 778.9h1.5v1.5h-1.5zM706.5 778.9h1.5v1.5h-1.5zM712.5 778.9h1.5v1.5h-1.5zM687 780.4h1.5v1.5h-1.5zM693 780.4h1.5v1.5h-1.5zM699 780.4h1.5v1.5h-1.5zM705 780.4h1.5v1.5h-1.5zM711 780.4h1.5v1.5h-1.5zM717 780.4h1.2v1.5h-1.2zM685.65 781.9h1.35v1.5h-1.35zM691.5 781.9h1.5v1.5h-1.5zM697.5 781.9h1.5v1.5h-1.5zM703.5 781.9h1.5v1.5h-1.5zM709.5 781.9h1.5v1.5h-1.5zM715.5 781.9h1.5v1.5h-1.5zM690 783.4h1.5v1.5h-1.5zM696 783.4h1.5v1.5h-1.5zM702 783.4h1.5v1.5h-1.5zM708 783.4h1.5v1.5h-1.5zM714 783.4h1.5v1.5h-1.5zM688.5 784.9h1.5v1.5h-1.5zM694.5 784.9h1.5v1.5h-1.5zM700.5 784.9h1.5v1.5h-1.5zM706.5 784.9h1.5v1.5h-1.5zM712.5 784.9h1.5v1.5h-1.5zM687 786.4h1.5v1.5h-1.5zM693 786.4h1.5v1.5h-1.5zM699 786.4h1.5v1.5h-1.5zM705 786.4h1.5v1.5h-1.5zM711 786.4h1.5v1.5h-1.5zM717 786.4h1.2v1.5h-1.2zM685.65 787.9h1.35v1.5h-1.35zM691.5 787.9h1.5v1.5h-1.5zM697.5 787.9h1.5v1.5h-1.5zM703.5 787.9h1.5v1.5h-1.5zM709.5 787.9h1.5v1.5h-1.5zM715.5 787.9h1.5v1.5h-1.5zM690 789.4h1.5v1.5h-1.5zM696 789.4h1.5v1.5h-1.5zM702 789.4h1.5v1.5h-1.5zM708 789.4h1.5v1.5h-1.5zM714 789.4h1.5v1.5h-1.5zM688.5 790.9h1.5v1.5h-1.5zM694.5 790.9h1.5v1.5h-1.5zM700.5 790.9h1.5v1.5h-1.5zM706.5 790.9h1.5v1.5h-1.5zM712.5 790.9h1.5v1.5h-1.5zM687 792.4h1.5v1.5h-1.5zM693 792.4h1.5v1.5h-1.5zM699 792.4h1.5v1.5h-1.5zM705 792.4h1.5v1.5h-1.5zM711 792.4h1.5v1.5h-1.5zM717 792.4h1.2v1.5h-1.2zM685.65 793.9h1.35v1.5h-1.35zM691.5 793.9h1.5v1.5h-1.5zM697.5 793.9h1.5v1.5h-1.5zM703.5 793.9h1.5v1.5h-1.5zM709.5 793.9h1.5v1.5h-1.5zM715.5 793.9h1.5v1.5h-1.5zM690 795.4h1.5v1.5h-1.5zM696 795.4h1.5v1.5h-1.5zM702 795.4h1.5v1.5h-1.5zM708 795.4h1.5v1.5h-1.5zM714 795.4h1.5v1.5h-1.5zM688.5 796.9h1.5v1.5h-1.5zM694.5 796.9h1.5v1.5h-1.5zM700.5 796.9h1.5v1.5h-1.5zM706.5 796.9h1.5v1.5h-1.5zM712.5 796.9h1.5v1.5h-1.5zM687 798.4h1.5v1.5h-1.5zM693 798.4h1.5v1.5h-1.5zM699 798.4h1.5v1.5h-1.5zM705 798.4h1.5v1.5h-1.5zM711 798.4h1.5v1.5h-1.5zM717 798.4h1.2v1.5h-1.2zM685.65 799.9h1.35v1.5h-1.35zM691.5 799.9h1.5v1.5h-1.5zM697.5 799.9h1.5v1.5h-1.5zM703.5 799.9h1.5v1.5h-1.5zM709.5 799.9h1.5v1.5h-1.5zM715.5 799.9h1.5v1.5h-1.5zM690 801.4h1.5v1.5h-1.5zM696 801.4h1.5v1.5h-1.5zM702 801.4h1.5v1.5h-1.5zM708 801.4h1.5v1.5h-1.5zM714 801.4h1.5v1.5h-1.5zM688.5 802.9h1.5v1.5h-1.5zM694.5 802.9h1.5v1.5h-1.5zM700.5 802.9h1.5v1.5h-1.5zM706.5 802.9h1.5v1.5h-1.5zM712.5 802.9h1.5v1.5h-1.5zM687 804.4h1.5v1.5h-1.5zM693 804.4h1.5v1.5h-1.5zM699 804.4h1.5v1.5h-1.5zM705 804.4h1.5v1.5h-1.5zM711 804.4h1.5v1.5h-1.5zM717 804.4h1.2v1.5h-1.2zM685.65 805.9h1.35v1.5h-1.35zM691.5 805.9h1.5v1.5h-1.5zM697.5 805.9h1.5v1.5h-1.5zM703.5 805.9h1.5v1.5h-1.5zM709.5 805.9h1.5v1.5h-1.5zM715.5 805.9h1.5v1.5h-1.5zM690 807.4h1.5v1.5h-1.5zM696 807.4h1.5v1.5h-1.5zM702 807.4h1.5v1.5h-1.5zM708 807.4h1.5v1.5h-1.5zM714 807.4h1.5v1.5h-1.5zM688.5 808.9h1.5v1.5h-1.5zM694.5 808.9h1.5v1.5h-1.5zM700.5 808.9h1.5v1.5h-1.5zM706.5 808.9h1.5v1.5h-1.5zM712.5 808.9h1.5v1.5h-1.5zM687 810.4h1.5v1.5h-1.5zM693 810.4h1.5v1.5h-1.5zM699 810.4h1.5v1.5h-1.5zM705 810.4h1.5v1.5h-1.5zM711 810.4h1.5v1.5h-1.5zM717 810.4h1.2v1.5h-1.2zM685.65 811.9h1.35v1.5h-1.35zM691.5 811.9h1.5v1.5h-1.5zM697.5 811.9h1.5v1.5h-1.5zM703.5 811.9h1.5v1.5h-1.5zM709.5 811.9h1.5v1.5h-1.5zM715.5 811.9h1.5v1.5h-1.5zM690 813.4h1.5v1.5h-1.5zM696 813.4h1.5v1.5h-1.5zM702 813.4h1.5v1.5h-1.5zM708 813.4h1.5v1.5h-1.5zM714 813.4h1.5v1.5h-1.5zM688.5 814.9h1.5v1.5h-1.5zM694.5 814.9h1.5v1.5h-1.5zM700.5 814.9h1.5v1.5h-1.5zM706.5 814.9h1.5v1.5h-1.5zM712.5 814.9h1.5v1.5h-1.5zM687 816.4h1.5v1.5h-1.5zM693 816.4h1.5v1.5h-1.5zM699 816.4h1.5v1.5h-1.5zM705 816.4h1.5v1.5h-1.5zM711 816.4h1.5v1.5h-1.5zM717 816.4h1.2v1.5h-1.2zM685.65 817.9h1.35v1.5h-1.35zM691.5 817.9h1.5v1.5h-1.5zM697.5 817.9h1.5v1.5h-1.5zM703.5 817.9h1.5v1.5h-1.5zM709.5 817.9h1.5v1.5h-1.5zM715.5 817.9h1.5v1.5h-1.5zM690 819.4h1.5v1.5h-1.5zM696 819.4h1.5v1.5h-1.5zM702 819.4h1.5v1.5h-1.5zM708 819.4h1.5v1.5h-1.5zM714 819.4h1.5v1.5h-1.5zM688.5 820.9h1.5v1.5h-1.5zM694.5 820.9h1.5v1.5h-1.5zM700.5 820.9h1.5v1.5h-1.5zM706.5 820.9h1.5v1.5h-1.5zM712.5 820.9h1.5v1.5h-1.5zM687 822.4h1.5v1.1h-1.5zM693 822.4h1.5v1.1h-1.5zM699 822.4h1.5v1.1h-1.5zM705 822.4h1.5v1.1h-1.5zM711 822.4h1.5v1.1h-1.5zM717 822.4h1.2v1.1h-1.2z" fill="#000"/><rect x="685.65" y="753.15" width="32.55" height="70.35" fill="none" stroke="#000" stroke-width="1.1"/>
<line x1="173.5" y1="647.2" x2="173.5" y2="828.5" stroke="#2a2a2a" stroke-width="1.3"/>
<line x1="168" y1="823.5" x2="738.5" y2="823.5" stroke="#000" stroke-width="1.35"/>
<text transform="translate(136.6,828.5) skewY(0.05) scale(1.016,1)" font-size="16" stroke="#000" stroke-width="0.3">0.0</text>
<line x1="168" y1="779.42" x2="173.5" y2="779.42" stroke="#000" stroke-width="1.1"/>
<text transform="translate(136.35,784.42) skewY(0.05) scale(1.016,1)" font-size="16" stroke="#000" stroke-width="0.3">0.5</text>
<line x1="168" y1="735.35" x2="173.5" y2="735.35" stroke="#000" stroke-width="1.1"/>
<text transform="translate(136.6,740.35) skewY(0.05) scale(1.016,1)" font-size="16" stroke="#000" stroke-width="0.3">1.0</text>
<line x1="168" y1="691.28" x2="173.5" y2="691.28" stroke="#000" stroke-width="1.1"/>
<text transform="translate(136.35,696.28) skewY(0.05) scale(1.016,1)" font-size="16" stroke="#000" stroke-width="0.3">1.5</text>
<text transform="translate(136.6,652.2) skewY(0.05) scale(1.016,1)" font-size="16" stroke="#000" stroke-width="0.3">2.0</text>
<line x1="314.75" y1="823.5" x2="314.75" y2="828.5" stroke="#000" stroke-width="1"/>
<line x1="456" y1="823.5" x2="456" y2="828.5" stroke="#000" stroke-width="1"/>
<line x1="597.25" y1="823.5" x2="597.25" y2="828.5" stroke="#000" stroke-width="1"/>
<line x1="210.1" y1="818" x2="210.1" y2="818.6" stroke="#111" stroke-width="1.2"/>
<line x1="206.8" y1="818" x2="213.4" y2="818" stroke="#111" stroke-width="1.2"/>
<text transform="translate(205.1,808.6) skewY(0.05) scale(1.06,1)" font-size="15.5" stroke="#000" stroke-width="0.22">h</text>
<line x1="243.97" y1="723.75" x2="243.97" y2="733.25" stroke="#111" stroke-width="1.2"/>
<line x1="240.67" y1="723.75" x2="247.28" y2="723.75" stroke="#111" stroke-width="1.2"/>
<line x1="240.67" y1="733.25" x2="247.28" y2="733.25" stroke="#111" stroke-width="1.2"/>
<text transform="translate(238.93,718.1) skewY(0.05) scale(1.06,1)" font-size="15.5" stroke="#000" stroke-width="0.22">b</text>
<line x1="278.07" y1="699.5" x2="278.07" y2="717" stroke="#111" stroke-width="1.2"/>
<line x1="274.77" y1="699.5" x2="281.38" y2="699.5" stroke="#111" stroke-width="1.2"/>
<line x1="274.77" y1="717" x2="281.38" y2="717" stroke="#111" stroke-width="1.2"/>
<text transform="translate(273.3,694.5) skewY(0.05) scale(1.06,1)" font-size="15.5" stroke="#000" stroke-width="0.22">a</text>
<line x1="351.35" y1="811.25" x2="351.35" y2="814.5" stroke="#111" stroke-width="1.2"/>
<line x1="348.05" y1="811.25" x2="354.65" y2="811.25" stroke="#111" stroke-width="1.2"/>
<text transform="translate(341.18,804.9) skewY(0.05) scale(1.06,1)" font-size="15.5" stroke="#000" stroke-width="0.22">gh</text>
<line x1="385.12" y1="760" x2="385.12" y2="769.5" stroke="#111" stroke-width="1.2"/>
<line x1="381.82" y1="760" x2="388.43" y2="760" stroke="#111" stroke-width="1.2"/>
<line x1="381.82" y1="769.5" x2="388.43" y2="769.5" stroke="#111" stroke-width="1.2"/>
<text transform="translate(380.53,755.9) skewY(0.05) scale(1.06,1)" font-size="15.5" stroke="#000" stroke-width="0.22">d</text>
<line x1="419.35" y1="749.5" x2="419.35" y2="760.85" stroke="#111" stroke-width="1.2"/>
<line x1="416.05" y1="749.5" x2="422.65" y2="749.5" stroke="#111" stroke-width="1.2"/>
<line x1="416.05" y1="760.85" x2="422.65" y2="760.85" stroke="#111" stroke-width="1.2"/>
<text transform="translate(414.43,745.3) skewY(0.05) scale(1.06,1)" font-size="15.5" stroke="#000" stroke-width="0.22">d</text>
<line x1="492.55" y1="804.2" x2="492.55" y2="805.3" stroke="#111" stroke-width="1.2"/>
<line x1="489.25" y1="804.2" x2="495.85" y2="804.2" stroke="#111" stroke-width="1.2"/>
<text transform="translate(487.38,795.2) skewY(0.05) scale(1.06,1)" font-size="15.5" stroke="#000" stroke-width="0.22">g</text>
<line x1="526.45" y1="731.7" x2="526.45" y2="738.8" stroke="#111" stroke-width="1.2"/>
<line x1="523.15" y1="731.7" x2="529.75" y2="731.7" stroke="#111" stroke-width="1.2"/>
<line x1="523.15" y1="738.8" x2="529.75" y2="738.8" stroke="#111" stroke-width="1.2"/>
<text transform="translate(517.03,727.2) skewY(0.05) scale(1.06,1)" font-size="15.5" stroke="#000" stroke-width="0.22">bc</text>
<line x1="560.42" y1="721.6" x2="560.42" y2="730" stroke="#111" stroke-width="1.2"/>
<line x1="557.12" y1="721.6" x2="563.72" y2="721.6" stroke="#111" stroke-width="1.2"/>
<line x1="557.12" y1="730" x2="563.72" y2="730" stroke="#111" stroke-width="1.2"/>
<text transform="translate(555.43,716.1) skewY(0.05) scale(1.06,1)" font-size="15.5" stroke="#000" stroke-width="0.22">b</text>
<line x1="633.65" y1="780" x2="633.65" y2="780.5" stroke="#111" stroke-width="1.2"/>
<line x1="630.35" y1="780" x2="636.95" y2="780" stroke="#111" stroke-width="1.2"/>
<text transform="translate(629.35,775.6) skewY(0.05) scale(1.06,1)" font-size="15.5" stroke="#000" stroke-width="0.22">f</text>
<line x1="667.5" y1="766.4" x2="667.5" y2="772.9" stroke="#111" stroke-width="1.2"/>
<line x1="664.2" y1="766.4" x2="670.8" y2="766.4" stroke="#111" stroke-width="1.2"/>
<line x1="664.2" y1="772.9" x2="670.8" y2="772.9" stroke="#111" stroke-width="1.2"/>
<text transform="translate(662.86,761.4) skewY(0.05) scale(1.06,1)" font-size="15.5" stroke="#000" stroke-width="0.22">e</text>
<line x1="701.92" y1="750.5" x2="701.92" y2="755" stroke="#111" stroke-width="1.2"/>
<line x1="698.62" y1="750.5" x2="705.22" y2="750.5" stroke="#111" stroke-width="1.2"/>
<line x1="698.62" y1="755" x2="705.22" y2="755" stroke="#111" stroke-width="1.2"/>
<text transform="translate(697.03,742.4) skewY(0.05) scale(1.06,1)" font-size="15.5" stroke="#000" stroke-width="0.22">d</text>
<text transform="translate(200.88,848.45) skewY(0.05) scale(1.0325,1)" font-size="16" stroke="#000" stroke-width="0.3">-ve Control</text>
<text transform="translate(356.01,848.45) skewY(0.05) scale(1.0328,1)" font-size="16" stroke="#000" stroke-width="0.3">2% FYM</text>
<text transform="translate(462.98,848.45) skewY(0.05) scale(1.0315,1)" font-size="16" stroke="#000" stroke-width="0.3">+ve Control (MP)</text>
<text transform="translate(616.61,848.45) skewY(0.05) scale(1.0287,1)" font-size="16" stroke="#000" stroke-width="0.3">2% FYM + MP</text>
<text transform="translate(380.7,888.5) skewY(0.05) scale(1.038,1)" font-size="16" stroke="#000" stroke-width="0.3">Treatments</text>
<text transform="translate(97.4,742.8) rotate(-90)" text-anchor="middle" font-size="18" stroke="#000" stroke-width="0.35">Normalised fold expression</text>
<text transform="translate(118.2,742.8) rotate(-90)" text-anchor="middle" font-size="18" stroke="#000" stroke-width="0.35">of APX gene</text>
</svg>
</body>
</html>
